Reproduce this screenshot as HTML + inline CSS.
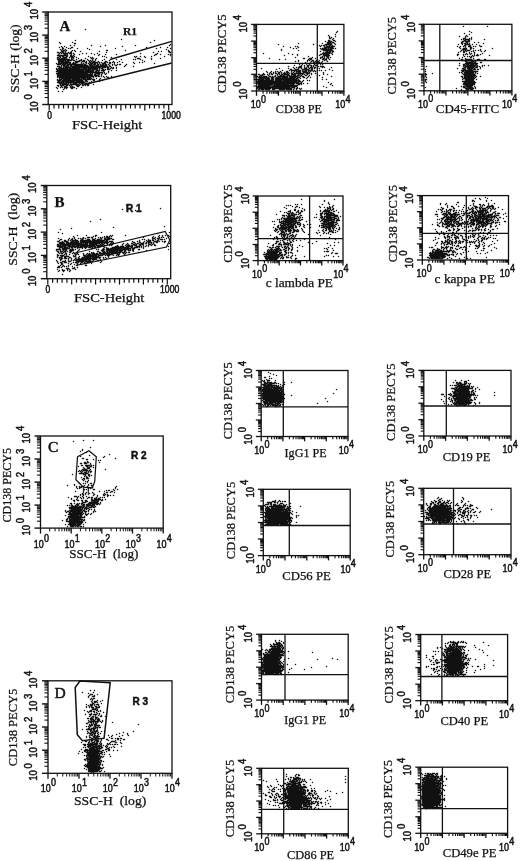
<!DOCTYPE html>
<html><head><meta charset="utf-8"><title>Figure</title>
<style>
html,body{margin:0;padding:0;background:#fff}
svg{display:block;filter:blur(.45px)}
svg path,svg rect{fill:none;stroke:#111}
svg path.d{stroke-linecap:round}
svg text{white-space:pre;fill:#111;stroke:#111;stroke-width:.25px}
.b{stroke-width:.5px}
.s{font-family:"Liberation Serif",serif}
.n{font-family:"Liberation Sans",sans-serif}
</style></head>
<body><svg width="520" height="861" viewBox="0 0 520 861">
<rect x="48.2" y="12" width="123.8" height="92.5" stroke-width="1.3"/>
<path d="M42.2 104.5L48.2 104.5" stroke-width="1.4"/>
<path d="M42.2 81.4L48.2 81.4" stroke-width="1.4"/>
<path d="M42.2 58.2L48.2 58.2" stroke-width="1.4"/>
<path d="M42.2 35.1L48.2 35.1" stroke-width="1.4"/>
<path d="M42.2 12L48.2 12" stroke-width="1.4"/>
<path d="M44.6 97.5L48.2 97.5" stroke-width="1.1"/>
<path d="M44.6 93.5L48.2 93.5" stroke-width="1.1"/>
<path d="M44.6 90.6L48.2 90.6" stroke-width="1.1"/>
<path d="M44.6 88.3L48.2 88.3" stroke-width="1.1"/>
<path d="M44.6 86.5L48.2 86.5" stroke-width="1.1"/>
<path d="M44.6 85L48.2 85" stroke-width="1.1"/>
<path d="M44.6 83.6L48.2 83.6" stroke-width="1.1"/>
<path d="M44.6 82.4L48.2 82.4" stroke-width="1.1"/>
<path d="M44.6 74.4L48.2 74.4" stroke-width="1.1"/>
<path d="M44.6 70.3L48.2 70.3" stroke-width="1.1"/>
<path d="M44.6 67.5L48.2 67.5" stroke-width="1.1"/>
<path d="M44.6 65.2L48.2 65.2" stroke-width="1.1"/>
<path d="M44.6 63.4L48.2 63.4" stroke-width="1.1"/>
<path d="M44.6 61.8L48.2 61.8" stroke-width="1.1"/>
<path d="M44.6 60.5L48.2 60.5" stroke-width="1.1"/>
<path d="M44.6 59.3L48.2 59.3" stroke-width="1.1"/>
<path d="M44.6 51.3L48.2 51.3" stroke-width="1.1"/>
<path d="M44.6 47.2L48.2 47.2" stroke-width="1.1"/>
<path d="M44.6 44.3L48.2 44.3" stroke-width="1.1"/>
<path d="M44.6 42.1L48.2 42.1" stroke-width="1.1"/>
<path d="M44.6 40.3L48.2 40.3" stroke-width="1.1"/>
<path d="M44.6 38.7L48.2 38.7" stroke-width="1.1"/>
<path d="M44.6 37.4L48.2 37.4" stroke-width="1.1"/>
<path d="M44.6 36.2L48.2 36.2" stroke-width="1.1"/>
<path d="M44.6 28.2L48.2 28.2" stroke-width="1.1"/>
<path d="M44.6 24.1L48.2 24.1" stroke-width="1.1"/>
<path d="M44.6 21.2L48.2 21.2" stroke-width="1.1"/>
<path d="M44.6 19L48.2 19" stroke-width="1.1"/>
<path d="M44.6 17.1L48.2 17.1" stroke-width="1.1"/>
<path d="M44.6 15.6L48.2 15.6" stroke-width="1.1"/>
<path d="M44.6 14.2L48.2 14.2" stroke-width="1.1"/>
<path d="M44.6 13.1L48.2 13.1" stroke-width="1.1"/>
<text class="n b" font-size="10.6" transform="translate(37.6 112) rotate(-90) scale(0.9 1)">10<tspan dy="-5.8" dx="2.0">0</tspan></text>
<text class="n b" font-size="10.6" transform="translate(37.6 88.9) rotate(-90) scale(0.9 1)">10<tspan dy="-5.8" dx="2.0">1</tspan></text>
<text class="n b" font-size="10.6" transform="translate(37.6 65.8) rotate(-90) scale(0.9 1)">10<tspan dy="-5.8" dx="2.0">2</tspan></text>
<text class="n b" font-size="10.6" transform="translate(37.6 42.6) rotate(-90) scale(0.9 1)">10<tspan dy="-5.8" dx="2.0">3</tspan></text>
<text class="n b" font-size="10.6" transform="translate(37.6 19.5) rotate(-90) scale(0.9 1)">10<tspan dy="-5.8" dx="2.0">4</tspan></text>
<path d="M49.2 104.5L49.2 110.4" stroke-width="1.2"/>
<path d="M54 104.5L54 108.5" stroke-width="1.2"/>
<path d="M58.8 104.5L58.8 108.5" stroke-width="1.2"/>
<path d="M63.5 104.5L63.5 108.5" stroke-width="1.2"/>
<path d="M68.3 104.5L68.3 108.5" stroke-width="1.2"/>
<path d="M73.1 104.5L73.1 110.4" stroke-width="1.2"/>
<path d="M77.9 104.5L77.9 108.5" stroke-width="1.2"/>
<path d="M82.7 104.5L82.7 108.5" stroke-width="1.2"/>
<path d="M87.4 104.5L87.4 108.5" stroke-width="1.2"/>
<path d="M92.2 104.5L92.2 108.5" stroke-width="1.2"/>
<path d="M97 104.5L97 110.4" stroke-width="1.2"/>
<path d="M101.8 104.5L101.8 108.5" stroke-width="1.2"/>
<path d="M106.6 104.5L106.6 108.5" stroke-width="1.2"/>
<path d="M111.3 104.5L111.3 108.5" stroke-width="1.2"/>
<path d="M116.1 104.5L116.1 108.5" stroke-width="1.2"/>
<path d="M120.9 104.5L120.9 110.4" stroke-width="1.2"/>
<path d="M125.7 104.5L125.7 108.5" stroke-width="1.2"/>
<path d="M130.5 104.5L130.5 108.5" stroke-width="1.2"/>
<path d="M135.2 104.5L135.2 108.5" stroke-width="1.2"/>
<path d="M140 104.5L140 108.5" stroke-width="1.2"/>
<path d="M144.8 104.5L144.8 110.4" stroke-width="1.2"/>
<path d="M149.6 104.5L149.6 108.5" stroke-width="1.2"/>
<path d="M154.4 104.5L154.4 108.5" stroke-width="1.2"/>
<path d="M159.1 104.5L159.1 108.5" stroke-width="1.2"/>
<path d="M163.9 104.5L163.9 108.5" stroke-width="1.2"/>
<path d="M168.7 104.5L168.7 110.4" stroke-width="1.2"/>
<path class="d" d="M85.5 29.5h0m36 10h0m-46 1h0m79 0h0m-95 2h0m13 0h0m78 0h0m-90 1h0m14 0h1m95 1h0m-100 1h0m4 0h0m17 0h0m14 0h0m30 0h0m34 0h0m-108 1h0m3 0h0m36 0h0m22 0h0m-63 1h0m3 0h0m4 0h0m5 0h1m74 0h0m14 0h0m7 0h0m-105 1h1m5 0h0m2 0h0m7 0h0m10 0h0m28 0h0m41 0h0m14 0h0m-110 1h0m2 0h0m3 0h0m24 0h0m77 0h0m-105 1h0m2 0h1m2 0h0m6 0h0m2 0h0m32 0h1m18 0h0m43 0h0m-107 1h2m2 0h0m6 0h0m4 0h0m5 0h0m19 0h0m59 0h0m3 0h0m7 0h1m-112 1h1m2 0h0m2 0h1m2 0h0m3 0h0m2 0h1m35 0h0m47 0h0m16 0h1m-111 1h0m2 0h0m2 0h4m2 0h2m2 0h0m9 0h0m4 0h0m5 0h0m6 0h0m43 0h0m17 0h0m-99 1h0m6 0h1m2 0h0m4 0h0m3 0h0m5 0h0m15 0h0m5 0h0m6 0h0m11 0h0m39 0h1m4 0h0m8 0h0m2 0h0m-113 1h10m3 0h1m2 0h0m25 0h0m56 0h0m16 0h0m-111 1h1m2 0h1m3 0h1m3 0h2m2 0h0m14 0h0m14 0h0m2 0h0m30 0h0m2 0h0m4 0h0m4 0h0m7 0h0m13 0h0m-107 1h1m2 0h0m3 0h3m3 0h0m2 0h2m3 0h0m14 0h0m2 0h0m14 0h0m5 0h0m24 0h0m10 0h0m-88 1h0m2 0h0m2 0h5m5 0h0m2 0h0m5 0h0m7 0h0m6 0h0m2 0h0m3 0h0m41 0h2m12 0h0m9 0h0m-103 1h12m2 0h1m4 0h0m5 0h0m6 0h0m5 0h0m3 0h0m9 0h0m12 0h0m5 0h0m12 0h0m2 0h0m5 0h0m11 0h0m-93 1h7m2 0h4m2 0h1m5 0h2m2 0h1m4 0h0m2 0h0m2 0h0m3 0h0m7 0h0m7 0h0m33 0h0m-84 1h5m2 0h3m7 0h4m3 0h2m2 0h0m3 0h0m2 0h0m2 0h1m4 0h0m7 0h1m7 0h0m6 0h0m25 0h0m-86 1h1m2 0h9m3 0h0m2 0h2m4 0h0m4 0h1m3 0h1m2 0h5m2 0h0m2 0h0m3 0h1m2 0h0m2 0h1m2 0h0m2 0h0m3 0h0m5 0h0m11 0h0m6 0h0m3 0h0m-86 1h0m2 0h9m2 0h1m2 0h3m6 0h0m2 0h0m3 0h0m2 0h0m2 0h2m2 0h1m2 0h0m2 0h0m3 0h3m4 0h1m4 0h0m20 0h0m20 0h0m-97 1h3m2 0h3m2 0h15m2 0h1m4 0h2m2 0h2m2 0h1m2 0h0m2 0h1m2 0h1m2 0h0m4 0h0m2 0h0m3 0h0m2 0h1m6 0h0m-65 1h0m2 0h1m2 0h2m2 0h1m3 0h13m2 0h3m2 0h0m2 0h2m2 0h6m3 0h0m3 0h0m3 0h1m9 0h0m-68 1h2m2 0h0m2 0h5m2 0h18m2 0h17m2 0h1m14 0h0m9 0h0m-74 1h2m2 0h0m2 0h5m2 0h28m2 0h3m2 0h1m3 0h0m2 0h0m3 0h0m-60 1h0m2 0h9m2 0h10m2 0h0m2 0h3m2 0h9m2 0h0m2 0h1m5 0h1m2 0h0m2 0h1m3 0h0m-60 1h1m2 0h31m2 0h5m2 0h0m3 0h1m2 0h0m2 0h2m-52 1h26m2 0h8m3 0h3m2 0h3m7 0h0m5 0h0m-60 1h37m2 0h1m2 0h0m5 0h0m5 0h0m-50 1h44m2 0h0m4 0h0m-52 1h31m3 0h0m2 0h0m3 0h4m3 0h0m2 0h0m2 0h0m-49 1h35m2 0h1m3 0h1m2 0h0m4 0h0m-48 1h35m2 0h4m3 0h0m-44 1h36m2 0h1m2 0h1m2 0h0m2 0h0m3 0h0m5 0h0m-54 1h0m2 0h31m3 0h0m11 0h0m3 0h1m-49 1h0m2 0h18m2 0h4m2 0h4m5 0h0m4 0h0m-43 1h0m2 0h2m2 0h7m2 0h9m2 0h7m2 0h2m5 0h0m-42 1h3m2 0h20m3 0h1m7 0h1m8 0h0m-44 1h1m2 0h13m2 0h7m2 0h2m4 0h0m8 0h0m-42 1h6m2 0h19m5 0h0m-30 1h7m2 0h0m2 0h0m3 0h3m3 0h0m2 0h2m2 0h4m-29 1h0m2 0h6m2 0h8m2 0h0m2 0h0m3 0h0m2 0h1m5 0h0m-36 1h1m2 0h3m3 0h1m2 0h0m2 0h0m5 0h3m3 0h1m2 0h0m2 0h1m-30 1h0m3 0h0m3 0h2m4 0h0m2 0h0m5 0h1m-22 1h0m4 0h0m2 0h0m2 0h3m3 0h4m7 0h0m-24 1h0m7 0h0m2 0h0m5 0h1m4 0h0m-13 1h0m-5 2h0m4 0h0" stroke-width="1.5"/>
<path d="M110 59.5L171.7 41.4" stroke-width="1.5"/>
<path d="M83.6 84.8L171.7 63" stroke-width="1.5"/>
<text class="s" x="59.5" y="30.8" font-size="15" font-weight="bold">A</text>
<text class="s" x="123" y="34.5" font-size="10.5" font-weight="bold" textLength="14" lengthAdjust="spacingAndGlyphs">R1</text>
<text class="s" x="18.6" y="92.8" font-size="13" transform="rotate(-90 18.6 92.8)" textLength="68.4" lengthAdjust="spacingAndGlyphs">SSC-H (log)</text>
<text class="n b" x="47.2" y="118.9" font-size="10.3" textLength="4.7" lengthAdjust="spacingAndGlyphs">0</text>
<text class="n b" x="161.5" y="118.9" font-size="10.3" textLength="19.3" lengthAdjust="spacingAndGlyphs">1000</text>
<text class="s" x="72" y="128.8" font-size="12.5" textLength="70.3" lengthAdjust="spacingAndGlyphs">FSC-Height</text>
<rect x="256.5" y="24.4" width="87.4" height="66.6" stroke-width="1.3"/>
<path d="M317.3 24.4L317.3 91" stroke-width="1.3"/>
<path d="M256.5 63.3L343.9 63.3" stroke-width="1.3"/>
<path d="M251.1 91L256.5 91" stroke-width="1.3"/>
<path d="M251.1 74.3L256.5 74.3" stroke-width="1.3"/>
<path d="M251.1 57.7L256.5 57.7" stroke-width="1.3"/>
<path d="M251.1 41.1L256.5 41.1" stroke-width="1.3"/>
<path d="M251.1 24.4L256.5 24.4" stroke-width="1.3"/>
<path d="M253.4 86L256.5 86" stroke-width="1.15"/>
<path d="M253.4 83.1L256.5 83.1" stroke-width="1.15"/>
<path d="M253.4 81L256.5 81" stroke-width="1.15"/>
<path d="M253.4 79.4L256.5 79.4" stroke-width="1.15"/>
<path d="M253.4 78L256.5 78" stroke-width="1.15"/>
<path d="M253.4 76.9L256.5 76.9" stroke-width="1.15"/>
<path d="M253.4 76L256.5 76" stroke-width="1.15"/>
<path d="M253.4 75.1L256.5 75.1" stroke-width="1.15"/>
<path d="M253.4 69.3L256.5 69.3" stroke-width="1.15"/>
<path d="M253.4 66.4L256.5 66.4" stroke-width="1.15"/>
<path d="M253.4 64.3L256.5 64.3" stroke-width="1.15"/>
<path d="M253.4 62.7L256.5 62.7" stroke-width="1.15"/>
<path d="M253.4 61.4L256.5 61.4" stroke-width="1.15"/>
<path d="M253.4 60.3L256.5 60.3" stroke-width="1.15"/>
<path d="M253.4 59.3L256.5 59.3" stroke-width="1.15"/>
<path d="M253.4 58.5L256.5 58.5" stroke-width="1.15"/>
<path d="M253.4 52.7L256.5 52.7" stroke-width="1.15"/>
<path d="M253.4 49.8L256.5 49.8" stroke-width="1.15"/>
<path d="M253.4 47.7L256.5 47.7" stroke-width="1.15"/>
<path d="M253.4 46.1L256.5 46.1" stroke-width="1.15"/>
<path d="M253.4 44.7L256.5 44.7" stroke-width="1.15"/>
<path d="M253.4 43.6L256.5 43.6" stroke-width="1.15"/>
<path d="M253.4 42.7L256.5 42.7" stroke-width="1.15"/>
<path d="M253.4 41.8L256.5 41.8" stroke-width="1.15"/>
<path d="M253.4 36L256.5 36" stroke-width="1.15"/>
<path d="M253.4 33.1L256.5 33.1" stroke-width="1.15"/>
<path d="M253.4 31L256.5 31" stroke-width="1.15"/>
<path d="M253.4 29.4L256.5 29.4" stroke-width="1.15"/>
<path d="M253.4 28.1L256.5 28.1" stroke-width="1.15"/>
<path d="M253.4 27L256.5 27" stroke-width="1.15"/>
<path d="M253.4 26L256.5 26" stroke-width="1.15"/>
<path d="M253.4 25.2L256.5 25.2" stroke-width="1.15"/>
<path d="M256.5 91L256.5 95.8" stroke-width="1.3"/>
<path d="M278.4 91L278.4 95.8" stroke-width="1.3"/>
<path d="M300.2 91L300.2 95.8" stroke-width="1.3"/>
<path d="M322 91L322 95.8" stroke-width="1.3"/>
<path d="M343.9 91L343.9 95.8" stroke-width="1.3"/>
<path d="M263.1 91L263.1 93.7" stroke-width="1.15"/>
<path d="M266.9 91L266.9 93.7" stroke-width="1.15"/>
<path d="M269.7 91L269.7 93.7" stroke-width="1.15"/>
<path d="M271.8 91L271.8 93.7" stroke-width="1.15"/>
<path d="M273.5 91L273.5 93.7" stroke-width="1.15"/>
<path d="M275 91L275 93.7" stroke-width="1.15"/>
<path d="M276.2 91L276.2 93.7" stroke-width="1.15"/>
<path d="M277.4 91L277.4 93.7" stroke-width="1.15"/>
<path d="M284.9 91L284.9 93.7" stroke-width="1.15"/>
<path d="M288.8 91L288.8 93.7" stroke-width="1.15"/>
<path d="M291.5 91L291.5 93.7" stroke-width="1.15"/>
<path d="M293.6 91L293.6 93.7" stroke-width="1.15"/>
<path d="M295.4 91L295.4 93.7" stroke-width="1.15"/>
<path d="M296.8 91L296.8 93.7" stroke-width="1.15"/>
<path d="M298.1 91L298.1 93.7" stroke-width="1.15"/>
<path d="M299.2 91L299.2 93.7" stroke-width="1.15"/>
<path d="M306.8 91L306.8 93.7" stroke-width="1.15"/>
<path d="M310.6 91L310.6 93.7" stroke-width="1.15"/>
<path d="M313.4 91L313.4 93.7" stroke-width="1.15"/>
<path d="M315.5 91L315.5 93.7" stroke-width="1.15"/>
<path d="M317.2 91L317.2 93.7" stroke-width="1.15"/>
<path d="M318.7 91L318.7 93.7" stroke-width="1.15"/>
<path d="M319.9 91L319.9 93.7" stroke-width="1.15"/>
<path d="M321.1 91L321.1 93.7" stroke-width="1.15"/>
<path d="M328.6 91L328.6 93.7" stroke-width="1.15"/>
<path d="M332.5 91L332.5 93.7" stroke-width="1.15"/>
<path d="M335.2 91L335.2 93.7" stroke-width="1.15"/>
<path d="M337.3 91L337.3 93.7" stroke-width="1.15"/>
<path d="M339.1 91L339.1 93.7" stroke-width="1.15"/>
<path d="M340.5 91L340.5 93.7" stroke-width="1.15"/>
<path d="M341.8 91L341.8 93.7" stroke-width="1.15"/>
<path d="M342.9 91L342.9 93.7" stroke-width="1.15"/>
<text class="n b" font-size="10.6" transform="translate(250.7 108.3) rotate(0) scale(0.85 1)">10<tspan dy="-5.8" dx="0.3">0</tspan></text>
<text class="n b" font-size="10.6" transform="translate(335.2 108.3) rotate(0) scale(0.85 1)">10<tspan dy="-5.8" dx="0.3">4</tspan></text>
<text class="n b" font-size="10.6" transform="translate(247 99.2) rotate(-90) scale(0.9 1)">10<tspan dy="-5.8" dx="2.0">0</tspan></text>
<text class="n b" font-size="10.6" transform="translate(247 32.6) rotate(-90) scale(0.9 1)">10<tspan dy="-5.8" dx="2.0">4</tspan></text>
<text class="s" x="226.1" y="93.1" font-size="12" transform="rotate(-90 226.1 93.1)" textLength="78.8" lengthAdjust="spacingAndGlyphs">CD138 PECY5</text>
<text class="s" x="275.8" y="113" font-size="12" textLength="46.2" lengthAdjust="spacingAndGlyphs">CD38 PE</text>
<path class="d" d="M337.5 31.5h0m-1 1h0m-1 2h0m-7 1h0m1 1h0m6 0h0m-6 1h0m2 0h0m-2 1h1m3 0h0m-1 1h0m-4 1h1m4 0h1m-9 1h0m3 0h3m4 0h0m-8 1h3m2 0h1m-35 1h0m24 0h0m5 0h4m3 0h0m-56 1h0m35 0h0m12 0h6m4 0h0m-16 1h0m2 0h0m2 0h1m2 0h0m3 0h1m2 0h0m-49 1h0m12 0h0m2 0h0m23 0h0m4 0h0m2 0h3m2 0h3m-44 1h0m8 0h0m26 0h8m-39 1h0m3 0h0m24 0h0m2 0h4m2 0h0m2 0h3m2 0h0m-54 1h0m40 0h10m-50 1h0m17 0h0m25 0h9m-12 1h0m6 0h1m2 0h1m2 0h1m-10 1h0m2 0h5m2 0h0m-69 1h0m25 0h0m34 0h7m2 0h0m-39 1h0m5 0h0m23 0h1m2 0h5m4 0h0m-48 1h0m13 0h0m22 0h0m4 0h6m-21 1h0m14 0h0m2 0h0m2 0h2m-33 1h0m17 0h0m8 0h2m2 0h0m3 0h1m2 0h0m-61 1h0m34 0h1m5 0h2m4 0h0m5 0h0m3 0h1m2 0h0m2 0h0m-49 1h0m6 0h0m23 0h0m2 0h1m6 0h0m5 0h1m2 0h1m3 0h0m-31 1h0m9 0h0m2 0h0m3 0h1m3 0h0m3 0h0m5 0h0m2 0h0m-31 1h0m3 0h0m9 0h0m4 0h0m2 0h0m2 0h1m2 0h0m4 0h0m5 0h0m-22 1h0m5 0h0m3 0h1m2 0h3m2 0h0m-19 1h0m4 0h0m9 0h0m3 0h0m2 0h0m5 0h0m-26 1h0m3 0h0m4 0h0m3 0h0m5 0h0m3 0h0m3 0h0m2 0h0m-28 1h0m7 0h0m3 0h0m3 0h1m2 0h1m2 0h0m2 0h1m-28 1h0m11 0h2m3 0h0m3 0h1m3 0h0m2 0h0m5 0h0m2 0h3m-30 1h0m3 0h0m2 0h3m3 0h0m2 0h0m2 0h0m2 0h2m2 0h1m7 0h0m2 0h0m7 0h0m-70 1h0m18 0h0m9 0h0m6 0h0m4 0h0m3 0h0m3 0h2m3 0h0m2 0h1m2 0h0m3 0h0m2 0h0m-43 1h0m14 0h1m4 0h3m4 0h6m3 0h1m17 0h0m-47 1h0m7 0h0m2 0h5m2 0h2m2 0h0m3 0h1m2 0h4m2 0h0m3 0h0m2 0h0m2 0h0m4 0h0m7 0h0m-66 1h0m5 0h0m4 0h0m2 0h0m3 0h0m6 0h1m4 0h0m3 0h0m2 0h4m2 0h4m2 0h0m2 0h0m3 0h0m2 0h0m-48 1h0m3 0h0m3 0h0m2 0h0m3 0h1m2 0h0m3 0h0m2 0h2m3 0h0m2 0h0m3 0h0m2 0h2m3 0h4m2 0h0m14 0h0m-60 1h0m6 0h0m2 0h0m2 0h0m2 0h1m2 0h1m2 0h0m2 0h2m2 0h0m2 0h0m2 0h1m2 0h9m3 0h3m2 0h0m4 0h0m8 0h0m-65 1h1m3 0h2m3 0h0m2 0h0m2 0h1m5 0h0m2 0h0m2 0h1m2 0h4m3 0h4m3 0h0m2 0h0m2 0h0m2 0h0m3 0h0m4 0h0m12 0h0m4 0h0m-67 1h2m6 0h0m7 0h0m2 0h0m3 0h1m2 0h1m3 0h2m2 0h0m2 0h2m2 0h2m2 0h0m4 0h1m3 0h0m10 0h0m-62 1h0m2 0h2m2 0h3m3 0h1m2 0h0m2 0h1m3 0h9m2 0h8m3 0h0m2 0h1m5 0h0m23 0h0m-73 1h10m3 0h2m3 0h4m2 0h5m2 0h6m2 0h2m4 0h1m3 0h0m3 0h0m12 0h0m-63 1h10m2 0h2m2 0h19m2 0h1m3 0h0m6 0h0m-49 1h6m2 0h4m2 0h2m2 0h21m2 0h0m24 0h0m4 0h0m-68 1h15m2 0h6m2 0h16m4 0h0m4 0h0m2 0h0m-52 1h39m2 0h2m2 0h0m-45 1h41m3 0h0m27 0h0m-71 1h37m2 0h5m2 0h0m4 0h0m24 0h0m-73 1h14m2 0h14m2 0h3m5 0h1m2 0h0m29 0h0m-72 1h11m2 0h0m2 0h24m35 0h0m-75 1h13m2 0h24m27 0h0m-66 1h32m2 0h3m3 0h0m29 0h0m-69 1h0m2 0h11m2 0h19m3 0h0m2 0h1m2 0h0m2 0h0m-43 1h1m2 0h2m2 0h4m3 0h2m5 0h5m2 0h5m2 0h0m3 0h0m4 0h0" stroke-width="1.5"/>
<rect x="424" y="24.3" width="87.9" height="66.5" stroke-width="1.3"/>
<path d="M439.8 24.3L439.8 90.8" stroke-width="1.3"/>
<path d="M424 60.5L511.9 60.5" stroke-width="1.3"/>
<path d="M418.6 90.8L424 90.8" stroke-width="1.3"/>
<path d="M418.6 74.2L424 74.2" stroke-width="1.3"/>
<path d="M418.6 57.5L424 57.5" stroke-width="1.3"/>
<path d="M418.6 40.9L424 40.9" stroke-width="1.3"/>
<path d="M418.6 24.3L424 24.3" stroke-width="1.3"/>
<path d="M420.9 85.8L424 85.8" stroke-width="1.15"/>
<path d="M420.9 82.9L424 82.9" stroke-width="1.15"/>
<path d="M420.9 80.8L424 80.8" stroke-width="1.15"/>
<path d="M420.9 79.2L424 79.2" stroke-width="1.15"/>
<path d="M420.9 77.9L424 77.9" stroke-width="1.15"/>
<path d="M420.9 76.8L424 76.8" stroke-width="1.15"/>
<path d="M420.9 75.8L424 75.8" stroke-width="1.15"/>
<path d="M420.9 74.9L424 74.9" stroke-width="1.15"/>
<path d="M420.9 69.2L424 69.2" stroke-width="1.15"/>
<path d="M420.9 66.2L424 66.2" stroke-width="1.15"/>
<path d="M420.9 64.2L424 64.2" stroke-width="1.15"/>
<path d="M420.9 62.6L424 62.6" stroke-width="1.15"/>
<path d="M420.9 61.2L424 61.2" stroke-width="1.15"/>
<path d="M420.9 60.1L424 60.1" stroke-width="1.15"/>
<path d="M420.9 59.2L424 59.2" stroke-width="1.15"/>
<path d="M420.9 58.3L424 58.3" stroke-width="1.15"/>
<path d="M420.9 52.5L424 52.5" stroke-width="1.15"/>
<path d="M420.9 49.6L424 49.6" stroke-width="1.15"/>
<path d="M420.9 47.5L424 47.5" stroke-width="1.15"/>
<path d="M420.9 45.9L424 45.9" stroke-width="1.15"/>
<path d="M420.9 44.6L424 44.6" stroke-width="1.15"/>
<path d="M420.9 43.5L424 43.5" stroke-width="1.15"/>
<path d="M420.9 42.5L424 42.5" stroke-width="1.15"/>
<path d="M420.9 41.7L424 41.7" stroke-width="1.15"/>
<path d="M420.9 35.9L424 35.9" stroke-width="1.15"/>
<path d="M420.9 33L424 33" stroke-width="1.15"/>
<path d="M420.9 30.9L424 30.9" stroke-width="1.15"/>
<path d="M420.9 29.3L424 29.3" stroke-width="1.15"/>
<path d="M420.9 28L424 28" stroke-width="1.15"/>
<path d="M420.9 26.9L424 26.9" stroke-width="1.15"/>
<path d="M420.9 25.9L424 25.9" stroke-width="1.15"/>
<path d="M420.9 25.1L424 25.1" stroke-width="1.15"/>
<path d="M424 90.8L424 95.6" stroke-width="1.3"/>
<path d="M446 90.8L446 95.6" stroke-width="1.3"/>
<path d="M467.9 90.8L467.9 95.6" stroke-width="1.3"/>
<path d="M489.9 90.8L489.9 95.6" stroke-width="1.3"/>
<path d="M511.9 90.8L511.9 95.6" stroke-width="1.3"/>
<path d="M430.6 90.8L430.6 93.5" stroke-width="1.15"/>
<path d="M434.5 90.8L434.5 93.5" stroke-width="1.15"/>
<path d="M437.2 90.8L437.2 93.5" stroke-width="1.15"/>
<path d="M439.4 90.8L439.4 93.5" stroke-width="1.15"/>
<path d="M441.1 90.8L441.1 93.5" stroke-width="1.15"/>
<path d="M442.6 90.8L442.6 93.5" stroke-width="1.15"/>
<path d="M443.8 90.8L443.8 93.5" stroke-width="1.15"/>
<path d="M445 90.8L445 93.5" stroke-width="1.15"/>
<path d="M452.6 90.8L452.6 93.5" stroke-width="1.15"/>
<path d="M456.5 90.8L456.5 93.5" stroke-width="1.15"/>
<path d="M459.2 90.8L459.2 93.5" stroke-width="1.15"/>
<path d="M461.3 90.8L461.3 93.5" stroke-width="1.15"/>
<path d="M463.1 90.8L463.1 93.5" stroke-width="1.15"/>
<path d="M464.5 90.8L464.5 93.5" stroke-width="1.15"/>
<path d="M465.8 90.8L465.8 93.5" stroke-width="1.15"/>
<path d="M466.9 90.8L466.9 93.5" stroke-width="1.15"/>
<path d="M474.6 90.8L474.6 93.5" stroke-width="1.15"/>
<path d="M478.4 90.8L478.4 93.5" stroke-width="1.15"/>
<path d="M481.2 90.8L481.2 93.5" stroke-width="1.15"/>
<path d="M483.3 90.8L483.3 93.5" stroke-width="1.15"/>
<path d="M485 90.8L485 93.5" stroke-width="1.15"/>
<path d="M486.5 90.8L486.5 93.5" stroke-width="1.15"/>
<path d="M487.8 90.8L487.8 93.5" stroke-width="1.15"/>
<path d="M488.9 90.8L488.9 93.5" stroke-width="1.15"/>
<path d="M496.5 90.8L496.5 93.5" stroke-width="1.15"/>
<path d="M500.4 90.8L500.4 93.5" stroke-width="1.15"/>
<path d="M503.2 90.8L503.2 93.5" stroke-width="1.15"/>
<path d="M505.3 90.8L505.3 93.5" stroke-width="1.15"/>
<path d="M507 90.8L507 93.5" stroke-width="1.15"/>
<path d="M508.5 90.8L508.5 93.5" stroke-width="1.15"/>
<path d="M509.8 90.8L509.8 93.5" stroke-width="1.15"/>
<path d="M510.9 90.8L510.9 93.5" stroke-width="1.15"/>
<text class="n b" font-size="10.6" transform="translate(418.1 108.1) rotate(0) scale(0.85 1)">10<tspan dy="-5.8" dx="0.3">0</tspan></text>
<text class="n b" font-size="10.6" transform="translate(501.9 108.1) rotate(0) scale(0.85 1)">10<tspan dy="-5.8" dx="0.3">4</tspan></text>
<text class="n b" font-size="10.6" transform="translate(414.5 99) rotate(-90) scale(0.9 1)">10<tspan dy="-5.8" dx="2.0">0</tspan></text>
<text class="n b" font-size="10.6" transform="translate(414.5 32.5) rotate(-90) scale(0.9 1)">10<tspan dy="-5.8" dx="2.0">4</tspan></text>
<text class="s" x="396.4" y="94.4" font-size="12" transform="rotate(-90 396.4 94.4)" textLength="77.5" lengthAdjust="spacingAndGlyphs">CD138 PECY5</text>
<text class="s" x="435.8" y="112.5" font-size="12" textLength="63.4" lengthAdjust="spacingAndGlyphs">CD45-FITC</text>
<path class="d" d="M463.5 26.5h0m24 0h0m-18 5h0m2 1h0m-7 1h0m5 1h0m-3 1h0m-7 1h0m6 0h0m2 0h0m-2 1h0m6 0h0m-8 1h2m4 0h0m2 0h0m-10 1h0m2 0h0m2 0h4m2 0h0m13 0h0m-20 1h1m3 0h1m-7 1h1m2 0h4m-8 1h1m4 0h1m7 0h0m4 0h0m-17 1h1m2 0h1m2 0h0m2 0h0m14 0h0m-25 1h0m4 0h0m3 0h4m3 0h0m4 0h0m-12 1h1m4 0h1m9 0h0m-22 1h0m3 0h0m3 0h0m2 0h0m3 0h2m3 0h0m2 0h0m5 0h1m-22 1h0m6 0h0m5 0h1m-11 1h0m3 0h3m4 0h1m2 0h0m19 0h0m-30 1h4m4 0h0m10 0h0m-19 1h0m2 0h0m2 0h0m2 0h2m4 0h0m2 0h0m3 0h0m2 0h0m5 0h0m-25 1h0m3 0h1m2 0h0m5 0h0m2 0h0m8 0h0m3 0h0m-26 1h0m5 0h1m5 0h0m5 0h0m-8 1h0m3 0h0m2 0h0m3 0h0m8 0h0m-25 1h1m5 0h0m2 0h0m2 0h0m3 0h0m4 0h0m3 0h0m3 0h0m-23 1h0m6 0h0m9 0h0m2 0h0m2 0h2m11 0h0m-25 1h0m3 0h0m2 0h0m2 0h0m2 0h0m-11 1h0m8 0h1m-12 1h0m6 0h0m8 0h0m-12 1h1m3 0h6m6 0h2m5 0h1m-22 1h0m3 0h8m2 0h0m5 0h0m-16 1h1m5 0h2m2 0h0m-9 1h6m2 0h1m5 0h1m-22 1h0m6 0h12m-14 1h1m2 0h2m2 0h3m2 0h1m-17 1h0m4 0h2m2 0h8m2 0h0m5 0h0m2 0h0m4 0h0m-62 1h0m37 0h0m2 0h9m2 0h1m2 0h0m3 0h0m-18 1h1m2 0h6m2 0h2m3 0h0m-23 1h0m5 0h1m2 0h0m2 0h5m2 0h0m6 0h0m-55 1h0m38 0h2m3 0h3m2 0h2m2 0h1m-17 1h11m-47 1h0m37 0h1m2 0h12m-18 1h0m2 0h0m3 0h9m2 0h0m-50 1h0m7 0h0m30 0h0m2 0h9m2 0h0m2 0h0m-52 1h1m37 0h11m-49 1h0m39 0h11m-50 1h0m36 0h1m2 0h10m2 0h0m4 0h0m-54 1h0m36 0h0m2 0h9m2 0h0m-12 1h11m-49 1h1m36 0h0m3 0h8m3 0h0m-51 1h0m40 0h8m-48 1h0m37 0h12m-48 1h0m38 0h11m-12 1h11m-11 1h11m-9 1h7m-11 1h0m2 0h1m2 0h5m3 0h0m-49 1h0m38 0h2m2 0h5m3 0h0m-19 1h0m9 0h8m2 0h0m-14 1h0m5 0h2m2 0h2" stroke-width="1.5"/>
<rect x="46.8" y="185.5" width="123.9" height="93.2" stroke-width="1.3"/>
<path d="M40.8 278.7L46.8 278.7" stroke-width="1.4"/>
<path d="M40.8 255.4L46.8 255.4" stroke-width="1.4"/>
<path d="M40.8 232.1L46.8 232.1" stroke-width="1.4"/>
<path d="M40.8 208.8L46.8 208.8" stroke-width="1.4"/>
<path d="M40.8 185.5L46.8 185.5" stroke-width="1.4"/>
<path d="M43.2 271.7L46.8 271.7" stroke-width="1.1"/>
<path d="M43.2 267.6L46.8 267.6" stroke-width="1.1"/>
<path d="M43.2 264.7L46.8 264.7" stroke-width="1.1"/>
<path d="M43.2 262.4L46.8 262.4" stroke-width="1.1"/>
<path d="M43.2 260.6L46.8 260.6" stroke-width="1.1"/>
<path d="M43.2 259L46.8 259" stroke-width="1.1"/>
<path d="M43.2 257.7L46.8 257.7" stroke-width="1.1"/>
<path d="M43.2 256.5L46.8 256.5" stroke-width="1.1"/>
<path d="M43.2 248.4L46.8 248.4" stroke-width="1.1"/>
<path d="M43.2 244.3L46.8 244.3" stroke-width="1.1"/>
<path d="M43.2 241.4L46.8 241.4" stroke-width="1.1"/>
<path d="M43.2 239.1L46.8 239.1" stroke-width="1.1"/>
<path d="M43.2 237.3L46.8 237.3" stroke-width="1.1"/>
<path d="M43.2 235.7L46.8 235.7" stroke-width="1.1"/>
<path d="M43.2 234.4L46.8 234.4" stroke-width="1.1"/>
<path d="M43.2 233.2L46.8 233.2" stroke-width="1.1"/>
<path d="M43.2 225.1L46.8 225.1" stroke-width="1.1"/>
<path d="M43.2 221L46.8 221" stroke-width="1.1"/>
<path d="M43.2 218.1L46.8 218.1" stroke-width="1.1"/>
<path d="M43.2 215.8L46.8 215.8" stroke-width="1.1"/>
<path d="M43.2 214L46.8 214" stroke-width="1.1"/>
<path d="M43.2 212.4L46.8 212.4" stroke-width="1.1"/>
<path d="M43.2 211.1L46.8 211.1" stroke-width="1.1"/>
<path d="M43.2 209.9L46.8 209.9" stroke-width="1.1"/>
<path d="M43.2 201.8L46.8 201.8" stroke-width="1.1"/>
<path d="M43.2 197.7L46.8 197.7" stroke-width="1.1"/>
<path d="M43.2 194.8L46.8 194.8" stroke-width="1.1"/>
<path d="M43.2 192.5L46.8 192.5" stroke-width="1.1"/>
<path d="M43.2 190.7L46.8 190.7" stroke-width="1.1"/>
<path d="M43.2 189.1L46.8 189.1" stroke-width="1.1"/>
<path d="M43.2 187.8L46.8 187.8" stroke-width="1.1"/>
<path d="M43.2 186.6L46.8 186.6" stroke-width="1.1"/>
<text class="n b" font-size="10.6" transform="translate(36.2 286.2) rotate(-90) scale(0.9 1)">10<tspan dy="-5.8" dx="2.0">0</tspan></text>
<text class="n b" font-size="10.6" transform="translate(36.2 262.9) rotate(-90) scale(0.9 1)">10<tspan dy="-5.8" dx="2.0">1</tspan></text>
<text class="n b" font-size="10.6" transform="translate(36.2 239.6) rotate(-90) scale(0.9 1)">10<tspan dy="-5.8" dx="2.0">2</tspan></text>
<text class="n b" font-size="10.6" transform="translate(36.2 216.3) rotate(-90) scale(0.9 1)">10<tspan dy="-5.8" dx="2.0">3</tspan></text>
<text class="n b" font-size="10.6" transform="translate(36.2 193) rotate(-90) scale(0.9 1)">10<tspan dy="-5.8" dx="2.0">4</tspan></text>
<path d="M47.8 278.7L47.8 284.6" stroke-width="1.2"/>
<path d="M52.6 278.7L52.6 282.7" stroke-width="1.2"/>
<path d="M57.4 278.7L57.4 282.7" stroke-width="1.2"/>
<path d="M62.1 278.7L62.1 282.7" stroke-width="1.2"/>
<path d="M66.9 278.7L66.9 282.7" stroke-width="1.2"/>
<path d="M71.7 278.7L71.7 284.6" stroke-width="1.2"/>
<path d="M76.5 278.7L76.5 282.7" stroke-width="1.2"/>
<path d="M81.3 278.7L81.3 282.7" stroke-width="1.2"/>
<path d="M86 278.7L86 282.7" stroke-width="1.2"/>
<path d="M90.8 278.7L90.8 282.7" stroke-width="1.2"/>
<path d="M95.6 278.7L95.6 284.6" stroke-width="1.2"/>
<path d="M100.4 278.7L100.4 282.7" stroke-width="1.2"/>
<path d="M105.2 278.7L105.2 282.7" stroke-width="1.2"/>
<path d="M109.9 278.7L109.9 282.7" stroke-width="1.2"/>
<path d="M114.7 278.7L114.7 282.7" stroke-width="1.2"/>
<path d="M119.5 278.7L119.5 284.6" stroke-width="1.2"/>
<path d="M124.3 278.7L124.3 282.7" stroke-width="1.2"/>
<path d="M129.1 278.7L129.1 282.7" stroke-width="1.2"/>
<path d="M133.8 278.7L133.8 282.7" stroke-width="1.2"/>
<path d="M138.6 278.7L138.6 282.7" stroke-width="1.2"/>
<path d="M143.4 278.7L143.4 284.6" stroke-width="1.2"/>
<path d="M148.2 278.7L148.2 282.7" stroke-width="1.2"/>
<path d="M153 278.7L153 282.7" stroke-width="1.2"/>
<path d="M157.7 278.7L157.7 282.7" stroke-width="1.2"/>
<path d="M162.5 278.7L162.5 282.7" stroke-width="1.2"/>
<path d="M167.3 278.7L167.3 284.6" stroke-width="1.2"/>
<path class="d" d="M126.5 205.5h0m34 3h0m-38 1h0m13 1h0m-35 9h0m-10 2h0m74 5h0m-51 1h0m-42 1h0m-11 1h0m-2 3h0m43 0h0m68 0h0m-107 1h0m95 0h0m-80 2h0m9 0h0m9 0h1m14 0h0m2 0h0m13 0h0m34 0h0m3 0h0m3 0h0m3 0h0m-95 1h0m20 0h0m2 0h0m9 0h0m2 0h1m2 0h0m2 0h0m42 0h0m5 0h0m4 0h0m7 0h0m-95 1h0m9 0h0m4 0h2m2 0h1m6 0h0m2 0h0m2 0h0m2 0h0m2 0h3m34 0h0m9 0h0m3 0h0m4 0h0m2 0h0m2 0h0m-105 1h0m11 0h0m3 0h0m2 0h0m4 0h0m2 0h0m2 0h1m2 0h0m7 0h0m3 0h0m5 0h1m3 0h1m2 0h4m41 0h2m3 0h2m7 0h0m-106 1h1m7 0h0m3 0h1m3 0h0m6 0h1m5 0h2m3 0h2m3 0h2m2 0h0m3 0h5m3 0h1m29 0h0m2 0h0m4 0h0m4 0h0m3 0h0m3 0h0m2 0h2m2 0h0m-105 1h0m5 0h1m3 0h0m2 0h0m2 0h5m3 0h10m2 0h12m2 0h1m32 0h0m7 0h0m2 0h2m2 0h1m4 0h1m-101 1h1m4 0h0m2 0h3m4 0h2m2 0h3m2 0h23m2 0h2m2 0h3m20 0h0m5 0h0m2 0h0m5 0h0m3 0h3m4 0h3m2 0h0m3 0h0m2 0h1m-106 1h4m3 0h2m2 0h8m2 0h28m3 0h0m2 0h0m20 0h1m5 0h1m3 0h0m3 0h0m2 0h3m2 0h0m3 0h1m7 0h0m-105 1h5m2 0h15m2 0h0m2 0h2m2 0h10m2 0h1m2 0h0m2 0h1m3 0h0m2 0h1m10 0h0m4 0h0m4 0h1m3 0h0m2 0h1m3 0h2m2 0h1m2 0h0m3 0h0m2 0h0m16 0h0m-112 1h1m2 0h27m2 0h7m4 0h0m2 0h1m4 0h0m2 0h3m10 0h0m4 0h0m2 0h0m5 0h1m2 0h0m3 0h4m5 0h2m2 0h0m2 0h0m-97 1h3m2 0h8m2 0h2m2 0h18m2 0h6m2 0h1m4 0h0m2 0h0m6 0h0m5 0h0m3 0h0m2 0h2m2 0h1m2 0h2m3 0h1m3 0h0m3 0h0m2 0h0m3 0h0m3 0h1m-98 1h8m3 0h10m2 0h7m2 0h6m2 0h3m3 0h0m12 0h3m2 0h3m3 0h6m4 0h3m2 0h0m2 0h0m2 0h0m3 0h0m20 0h0m-109 1h3m2 0h3m2 0h0m2 0h1m2 0h1m2 0h5m2 0h2m2 0h2m2 0h0m2 0h1m2 0h1m6 0h0m2 0h0m6 0h16m3 0h1m2 0h3m2 0h0m2 0h0m2 0h0m-84 1h0m3 0h7m3 0h0m5 0h0m5 0h0m3 0h0m6 0h1m11 0h0m3 0h2m2 0h20m2 0h2m9 0h0m-87 1h4m2 0h4m4 0h3m2 0h0m4 0h0m17 0h0m2 0h0m4 0h2m2 0h22m2 0h0m2 0h1m5 0h1m29 0h0m-112 1h0m4 0h0m3 0h0m2 0h1m3 0h4m5 0h0m23 0h2m3 0h16m2 0h1m3 0h2m2 0h1m13 0h0m-89 1h1m2 0h2m2 0h1m2 0h0m3 0h1m6 0h0m12 0h0m8 0h1m4 0h2m2 0h1m2 0h8m2 0h2m3 0h1m8 0h0m-75 1h0m2 0h0m3 0h0m2 0h0m4 0h1m3 0h0m3 0h0m15 0h0m2 0h0m6 0h1m3 0h2m2 0h13m2 0h2m2 0h0m2 0h1m9 0h0m-79 1h0m2 0h1m3 0h1m6 0h0m2 0h0m3 0h0m6 0h0m4 0h0m2 0h0m2 0h3m2 0h1m2 0h10m2 0h6m2 0h0m4 0h0m2 0h0m-68 1h0m7 0h0m2 0h0m3 0h0m6 0h1m2 0h0m5 0h0m3 0h0m2 0h2m2 0h6m2 0h0m2 0h2m2 0h6m5 0h2m5 0h0m-67 1h1m2 0h3m3 0h0m7 0h0m10 0h2m2 0h9m2 0h4m3 0h0m2 0h2m4 0h0m3 0h0m2 0h0m-61 1h0m4 0h1m2 0h4m5 0h1m5 0h0m5 0h14m10 0h0m-51 1h0m2 0h2m3 0h1m4 0h1m8 0h0m4 0h8m2 0h8m3 0h0m2 0h0m3 0h0m-49 1h0m2 0h1m2 0h2m2 0h0m3 0h0m4 0h0m3 0h1m2 0h15m3 0h0m4 0h0m3 0h0m-46 1h1m7 0h0m3 0h0m3 0h0m3 0h13m2 0h4m4 0h0m4 0h0m-48 1h0m4 0h0m5 0h0m3 0h0m3 0h0m2 0h0m2 0h0m2 0h9m2 0h2m3 0h0m4 0h1m-41 1h0m5 0h3m3 0h2m7 0h6m2 0h7m9 0h0m-44 1h0m3 0h1m3 0h2m7 0h0m2 0h1m2 0h0m3 0h1m2 0h0m3 0h2m11 0h0m-42 1h0m3 0h1m6 0h0m3 0h0m6 0h0m3 0h0m4 0h2m5 0h0m-30 1h1m8 0h0m4 0h0m7 0h0m-21 1h0m3 0h0m5 0h0m8 0h1m8 0h1m-28 1h1m3 0h0m2 0h0m2 0h0m2 0h0m4 0h0m-15 1h2m2 0h0m13 0h0m3 0h0m-11 1h2m4 0h2m-17 1h0m5 0h0m5 0h0m2 0h0m6 0h0m-16 1h0m3 0h2m3 0h0m3 0h0m-12 1h0m5 0h0m6 0h0m-7 3h0" stroke-width="1.5"/>
<path d="M75 253L165.2 231.5L169.8 240L166.5 247L98 261L77.5 265Z" stroke-width="1.2"/>
<text class="s" x="54.5" y="206.5" font-size="15" font-weight="bold">B</text>
<text class="n b" x="126" y="211.5" font-size="10" font-weight="bold">R 1</text>
<text class="s" x="17" y="265.8" font-size="12.5" transform="rotate(-90 17 265.8)" textLength="73" lengthAdjust="spacingAndGlyphs">SSC-H  (log)</text>
<text class="n b" x="45.6" y="292.5" font-size="10.3" textLength="4.7" lengthAdjust="spacingAndGlyphs">0</text>
<text class="n b" x="160" y="292.5" font-size="10.3" textLength="19.3" lengthAdjust="spacingAndGlyphs">1000</text>
<text class="s" x="74" y="301.5" font-size="12.5" textLength="70.3" lengthAdjust="spacingAndGlyphs">FSC-Height</text>
<rect x="258" y="196" width="85" height="64.6" stroke-width="1.3"/>
<path d="M309.6 196L309.6 260.6" stroke-width="1.3"/>
<path d="M258 238.7L343 238.7" stroke-width="1.3"/>
<path d="M252.6 260.6L258 260.6" stroke-width="1.3"/>
<path d="M252.6 244.5L258 244.5" stroke-width="1.3"/>
<path d="M252.6 228.3L258 228.3" stroke-width="1.3"/>
<path d="M252.6 212.2L258 212.2" stroke-width="1.3"/>
<path d="M252.6 196L258 196" stroke-width="1.3"/>
<path d="M254.9 255.7L258 255.7" stroke-width="1.15"/>
<path d="M254.9 252.9L258 252.9" stroke-width="1.15"/>
<path d="M254.9 250.9L258 250.9" stroke-width="1.15"/>
<path d="M254.9 249.3L258 249.3" stroke-width="1.15"/>
<path d="M254.9 248L258 248" stroke-width="1.15"/>
<path d="M254.9 247L258 247" stroke-width="1.15"/>
<path d="M254.9 246L258 246" stroke-width="1.15"/>
<path d="M254.9 245.2L258 245.2" stroke-width="1.15"/>
<path d="M254.9 239.6L258 239.6" stroke-width="1.15"/>
<path d="M254.9 236.7L258 236.7" stroke-width="1.15"/>
<path d="M254.9 234.7L258 234.7" stroke-width="1.15"/>
<path d="M254.9 233.2L258 233.2" stroke-width="1.15"/>
<path d="M254.9 231.9L258 231.9" stroke-width="1.15"/>
<path d="M254.9 230.8L258 230.8" stroke-width="1.15"/>
<path d="M254.9 229.9L258 229.9" stroke-width="1.15"/>
<path d="M254.9 229L258 229" stroke-width="1.15"/>
<path d="M254.9 223.4L258 223.4" stroke-width="1.15"/>
<path d="M254.9 220.6L258 220.6" stroke-width="1.15"/>
<path d="M254.9 218.6L258 218.6" stroke-width="1.15"/>
<path d="M254.9 217L258 217" stroke-width="1.15"/>
<path d="M254.9 215.7L258 215.7" stroke-width="1.15"/>
<path d="M254.9 214.7L258 214.7" stroke-width="1.15"/>
<path d="M254.9 213.7L258 213.7" stroke-width="1.15"/>
<path d="M254.9 212.9L258 212.9" stroke-width="1.15"/>
<path d="M254.9 207.3L258 207.3" stroke-width="1.15"/>
<path d="M254.9 204.4L258 204.4" stroke-width="1.15"/>
<path d="M254.9 202.4L258 202.4" stroke-width="1.15"/>
<path d="M254.9 200.9L258 200.9" stroke-width="1.15"/>
<path d="M254.9 199.6L258 199.6" stroke-width="1.15"/>
<path d="M254.9 198.5L258 198.5" stroke-width="1.15"/>
<path d="M254.9 197.6L258 197.6" stroke-width="1.15"/>
<path d="M254.9 196.7L258 196.7" stroke-width="1.15"/>
<path d="M258 260.6L258 265.4" stroke-width="1.3"/>
<path d="M279.2 260.6L279.2 265.4" stroke-width="1.3"/>
<path d="M300.5 260.6L300.5 265.4" stroke-width="1.3"/>
<path d="M321.8 260.6L321.8 265.4" stroke-width="1.3"/>
<path d="M343 260.6L343 265.4" stroke-width="1.3"/>
<path d="M264.4 260.6L264.4 263.3" stroke-width="1.15"/>
<path d="M268.1 260.6L268.1 263.3" stroke-width="1.15"/>
<path d="M270.8 260.6L270.8 263.3" stroke-width="1.15"/>
<path d="M272.9 260.6L272.9 263.3" stroke-width="1.15"/>
<path d="M274.5 260.6L274.5 263.3" stroke-width="1.15"/>
<path d="M276 260.6L276 263.3" stroke-width="1.15"/>
<path d="M277.2 260.6L277.2 263.3" stroke-width="1.15"/>
<path d="M278.3 260.6L278.3 263.3" stroke-width="1.15"/>
<path d="M285.6 260.6L285.6 263.3" stroke-width="1.15"/>
<path d="M289.4 260.6L289.4 263.3" stroke-width="1.15"/>
<path d="M292 260.6L292 263.3" stroke-width="1.15"/>
<path d="M294.1 260.6L294.1 263.3" stroke-width="1.15"/>
<path d="M295.8 260.6L295.8 263.3" stroke-width="1.15"/>
<path d="M297.2 260.6L297.2 263.3" stroke-width="1.15"/>
<path d="M298.4 260.6L298.4 263.3" stroke-width="1.15"/>
<path d="M299.5 260.6L299.5 263.3" stroke-width="1.15"/>
<path d="M306.9 260.6L306.9 263.3" stroke-width="1.15"/>
<path d="M310.6 260.6L310.6 263.3" stroke-width="1.15"/>
<path d="M313.3 260.6L313.3 263.3" stroke-width="1.15"/>
<path d="M315.4 260.6L315.4 263.3" stroke-width="1.15"/>
<path d="M317 260.6L317 263.3" stroke-width="1.15"/>
<path d="M318.5 260.6L318.5 263.3" stroke-width="1.15"/>
<path d="M319.7 260.6L319.7 263.3" stroke-width="1.15"/>
<path d="M320.8 260.6L320.8 263.3" stroke-width="1.15"/>
<path d="M328.1 260.6L328.1 263.3" stroke-width="1.15"/>
<path d="M331.9 260.6L331.9 263.3" stroke-width="1.15"/>
<path d="M334.5 260.6L334.5 263.3" stroke-width="1.15"/>
<path d="M336.6 260.6L336.6 263.3" stroke-width="1.15"/>
<path d="M338.3 260.6L338.3 263.3" stroke-width="1.15"/>
<path d="M339.7 260.6L339.7 263.3" stroke-width="1.15"/>
<path d="M340.9 260.6L340.9 263.3" stroke-width="1.15"/>
<path d="M342 260.6L342 263.3" stroke-width="1.15"/>
<text class="n b" font-size="10.6" transform="translate(251.9 277.9) rotate(0) scale(0.85 1)">10<tspan dy="-5.8" dx="0.3">0</tspan></text>
<text class="n b" font-size="10.6" transform="translate(333.2 277.9) rotate(0) scale(0.85 1)">10<tspan dy="-5.8" dx="0.3">4</tspan></text>
<text class="n b" font-size="10.6" transform="translate(248.5 268.8) rotate(-90) scale(0.9 1)">10<tspan dy="-5.8" dx="2.0">0</tspan></text>
<text class="n b" font-size="10.6" transform="translate(248.5 204.2) rotate(-90) scale(0.9 1)">10<tspan dy="-5.8" dx="2.0">4</tspan></text>
<text class="s" x="232.2" y="262.7" font-size="12" transform="rotate(-90 232.2 262.7)" textLength="78.2" lengthAdjust="spacingAndGlyphs">CD138 PECY5</text>
<text class="s" x="265.8" y="287" font-size="12" textLength="67.2" lengthAdjust="spacingAndGlyphs">c lambda PE</text>
<path class="d" d="M301.5 199.5h0m33 0h0m-10 1h0m0 1h0m4 1h0m0 1h0m-33 1h0m2 0h0m4 0h0m21 0h0m7 0h0m-43 1h0m2 0h0m2 0h0m43 0h0m-41 1h0m4 0h1m22 0h0m10 0h0m3 0h0m-48 1h0m11 0h0m4 0h0m21 0h0m4 0h0m3 0h0m2 0h1m2 0h0m-46 1h0m16 0h0m25 0h3m3 0h0m-39 1h1m9 0h0m21 0h0m2 0h0m3 0h0m2 0h1m-43 1h0m4 0h1m3 0h0m3 0h0m3 0h0m16 0h0m4 0h5m2 0h0m5 0h0m-56 1h0m8 0h2m7 0h1m3 0h1m18 0h0m3 0h6m4 0h1m-50 1h0m2 0h0m4 0h0m2 0h0m4 0h0m2 0h0m2 0h0m22 0h0m4 0h0m2 0h3m7 0h0m-51 1h2m2 0h2m6 0h1m20 0h2m2 0h4m2 0h3m-57 1h0m12 0h1m2 0h1m2 0h2m2 0h0m18 0h0m4 0h1m3 0h0m2 0h5m2 0h1m-52 1h2m2 0h0m2 0h6m6 0h1m19 0h1m5 0h11m-53 1h0m3 0h3m3 0h1m3 0h0m2 0h0m22 0h1m2 0h6m4 0h3m3 0h0m-58 1h0m5 0h5m2 0h0m2 0h0m2 0h0m2 0h0m2 0h0m12 0h0m2 0h0m4 0h2m2 0h0m2 0h8m4 0h0m-57 1h0m2 0h14m2 0h0m22 0h0m2 0h1m2 0h5m3 0h2m2 0h0m-61 1h0m2 0h0m2 0h0m3 0h11m4 0h0m2 0h1m17 0h0m3 0h12m3 0h1m-59 1h0m4 0h0m2 0h8m2 0h1m2 0h2m9 0h0m12 0h1m2 0h7m2 0h1m2 0h3m-67 1h0m2 0h0m5 0h0m2 0h15m10 0h0m14 0h0m3 0h5m3 0h2m3 0h0m-57 1h2m2 0h0m2 0h8m2 0h4m24 0h3m2 0h8m-55 1h4m2 0h4m2 0h2m2 0h0m3 0h0m21 0h3m2 0h7m4 0h0m-63 1h0m6 0h0m3 0h11m3 0h3m3 0h0m4 0h0m3 0h0m13 0h10m2 0h1m-58 1h0m2 0h5m2 0h1m2 0h3m2 0h0m5 0h0m4 0h0m15 0h0m2 0h2m2 0h1m2 0h6m4 0h0m-61 1h1m3 0h2m2 0h1m2 0h5m2 0h1m3 0h0m4 0h0m16 0h0m4 0h10m2 0h0m-62 1h0m4 0h1m2 0h13m2 0h1m8 0h0m6 0h0m11 0h3m2 0h4m2 0h0m2 0h0m5 0h0m-64 1h0m4 0h7m2 0h1m2 0h2m8 0h0m24 0h1m2 0h2m2 0h1m3 0h0m3 0h0m-64 1h2m2 0h0m2 0h4m2 0h3m3 0h1m3 0h0m5 0h0m21 0h0m3 0h0m2 0h2m3 0h0m5 0h1m-65 1h0m2 0h0m4 0h0m2 0h0m3 0h1m2 0h3m2 0h3m2 0h0m4 0h0m16 0h0m4 0h0m3 0h1m3 0h0m2 0h0m2 0h0m2 0h0m-60 1h0m3 0h0m3 0h2m2 0h1m2 0h2m3 0h1m2 0h2m5 0h0m20 0h0m6 0h3m5 0h0m-60 1h0m4 0h3m6 0h0m2 0h1m11 0h0m12 0h0m3 0h0m5 0h0m4 0h0m4 0h1m2 0h0m-55 1h1m3 0h0m2 0h0m3 0h1m27 0h0m6 0h0m3 0h0m2 0h0m-49 1h0m2 0h4m2 0h1m4 0h0m4 0h0m12 0h0m22 0h0m-60 1h0m11 0h0m2 0h2m2 0h0m3 0h1m2 0h0m2 0h0m25 0h0m-44 1h0m5 0h0m2 0h1m3 0h0m2 0h0m3 0h1m2 0h0m-21 1h0m2 0h1m5 0h0m2 0h0m2 0h1m4 0h0m3 0h0m35 0h0m-55 1h0m5 0h0m7 0h5m3 0h0m5 0h0m25 0h0m-51 1h0m4 0h0m6 0h2m4 0h0m4 0h0m11 0h0m31 0h0m-55 1h0m2 0h0m5 0h0m2 0h0m3 0h0m4 0h0m4 0h0m-24 1h2m5 0h0m7 0h0m3 0h0m23 0h0m-40 1h0m4 0h0m3 0h1m3 0h0m3 0h1m17 0h0m26 0h0m4 0h0m-70 1h0m7 0h1m3 0h0m5 0h2m2 0h1m23 0h0m15 0h0m-54 1h0m5 0h3m2 0h5m2 0h0m2 0h0m-20 1h1m8 0h0m7 0h0m2 0h0m2 0h0m7 0h0m31 0h0m4 0h0m-67 1h0m9 0h3m2 0h0m3 0h1m2 0h0m4 0h0m11 0h0m-33 1h1m2 0h1m2 0h0m3 0h0m4 0h0m2 0h0m2 0h0m2 0h0m4 0h0m5 0h0m31 0h0m-57 1h0m5 0h3m6 0h1m2 0h1m3 0h0m32 0h0m2 0h0m6 0h0m-64 1h0m2 0h2m2 0h4m2 0h0m3 0h1m4 0h0m3 0h1m35 0h0m-60 1h0m2 0h0m2 0h0m2 0h0m2 0h2m2 0h2m4 0h1m2 0h0m3 0h0m6 0h0m36 0h0m-66 1h11m6 0h1m12 0h0m27 0h0m2 0h2m-64 1h0m3 0h10m2 0h2m4 0h1m2 0h0m2 0h1m41 0h0m-66 1h10m3 0h1m6 0h0m2 0h0m4 0h0m39 0h0m4 0h2m-74 1h16m2 0h1m2 0h1m-19 1h0m2 0h10m2 0h2m2 0h0m4 0h0m4 0h0m3 0h0m31 0h0m2 0h0m-64 1h15m3 0h0m4 0h0m5 0h0m13 0h0m20 0h0m9 0h0m5 0h0m-73 1h13m3 0h0m2 0h0m3 0h2m2 0h0m-25 1h12m3 0h0m2 0h1m8 0h0m4 0h1m-30 1h1m2 0h7m19 0h0" stroke-width="1.5"/>
<rect x="422.3" y="195.6" width="86.2" height="64.4" stroke-width="1.3"/>
<path d="M466.3 195.6L466.3 260" stroke-width="1.3"/>
<path d="M422.3 233.4L508.5 233.4" stroke-width="1.3"/>
<path d="M416.9 260L422.3 260" stroke-width="1.3"/>
<path d="M416.9 243.9L422.3 243.9" stroke-width="1.3"/>
<path d="M416.9 227.8L422.3 227.8" stroke-width="1.3"/>
<path d="M416.9 211.7L422.3 211.7" stroke-width="1.3"/>
<path d="M416.9 195.6L422.3 195.6" stroke-width="1.3"/>
<path d="M419.2 255.2L422.3 255.2" stroke-width="1.15"/>
<path d="M419.2 252.3L422.3 252.3" stroke-width="1.15"/>
<path d="M419.2 250.3L422.3 250.3" stroke-width="1.15"/>
<path d="M419.2 248.7L422.3 248.7" stroke-width="1.15"/>
<path d="M419.2 247.5L422.3 247.5" stroke-width="1.15"/>
<path d="M419.2 246.4L422.3 246.4" stroke-width="1.15"/>
<path d="M419.2 245.5L422.3 245.5" stroke-width="1.15"/>
<path d="M419.2 244.6L422.3 244.6" stroke-width="1.15"/>
<path d="M419.2 239.1L422.3 239.1" stroke-width="1.15"/>
<path d="M419.2 236.2L422.3 236.2" stroke-width="1.15"/>
<path d="M419.2 234.2L422.3 234.2" stroke-width="1.15"/>
<path d="M419.2 232.6L422.3 232.6" stroke-width="1.15"/>
<path d="M419.2 231.4L422.3 231.4" stroke-width="1.15"/>
<path d="M419.2 230.3L422.3 230.3" stroke-width="1.15"/>
<path d="M419.2 229.4L422.3 229.4" stroke-width="1.15"/>
<path d="M419.2 228.5L422.3 228.5" stroke-width="1.15"/>
<path d="M419.2 223L422.3 223" stroke-width="1.15"/>
<path d="M419.2 220.1L422.3 220.1" stroke-width="1.15"/>
<path d="M419.2 218.1L422.3 218.1" stroke-width="1.15"/>
<path d="M419.2 216.5L422.3 216.5" stroke-width="1.15"/>
<path d="M419.2 215.3L422.3 215.3" stroke-width="1.15"/>
<path d="M419.2 214.2L422.3 214.2" stroke-width="1.15"/>
<path d="M419.2 213.3L422.3 213.3" stroke-width="1.15"/>
<path d="M419.2 212.4L422.3 212.4" stroke-width="1.15"/>
<path d="M419.2 206.9L422.3 206.9" stroke-width="1.15"/>
<path d="M419.2 204L422.3 204" stroke-width="1.15"/>
<path d="M419.2 202L422.3 202" stroke-width="1.15"/>
<path d="M419.2 200.4L422.3 200.4" stroke-width="1.15"/>
<path d="M419.2 199.2L422.3 199.2" stroke-width="1.15"/>
<path d="M419.2 198.1L422.3 198.1" stroke-width="1.15"/>
<path d="M419.2 197.2L422.3 197.2" stroke-width="1.15"/>
<path d="M419.2 196.3L422.3 196.3" stroke-width="1.15"/>
<path d="M422.3 260L422.3 264.8" stroke-width="1.3"/>
<path d="M443.9 260L443.9 264.8" stroke-width="1.3"/>
<path d="M465.4 260L465.4 264.8" stroke-width="1.3"/>
<path d="M486.9 260L486.9 264.8" stroke-width="1.3"/>
<path d="M508.5 260L508.5 264.8" stroke-width="1.3"/>
<path d="M428.8 260L428.8 262.7" stroke-width="1.15"/>
<path d="M432.6 260L432.6 262.7" stroke-width="1.15"/>
<path d="M435.3 260L435.3 262.7" stroke-width="1.15"/>
<path d="M437.4 260L437.4 262.7" stroke-width="1.15"/>
<path d="M439.1 260L439.1 262.7" stroke-width="1.15"/>
<path d="M440.5 260L440.5 262.7" stroke-width="1.15"/>
<path d="M441.8 260L441.8 262.7" stroke-width="1.15"/>
<path d="M442.9 260L442.9 262.7" stroke-width="1.15"/>
<path d="M450.3 260L450.3 262.7" stroke-width="1.15"/>
<path d="M454.1 260L454.1 262.7" stroke-width="1.15"/>
<path d="M456.8 260L456.8 262.7" stroke-width="1.15"/>
<path d="M458.9 260L458.9 262.7" stroke-width="1.15"/>
<path d="M460.6 260L460.6 262.7" stroke-width="1.15"/>
<path d="M462.1 260L462.1 262.7" stroke-width="1.15"/>
<path d="M463.3 260L463.3 262.7" stroke-width="1.15"/>
<path d="M464.4 260L464.4 262.7" stroke-width="1.15"/>
<path d="M471.9 260L471.9 262.7" stroke-width="1.15"/>
<path d="M475.7 260L475.7 262.7" stroke-width="1.15"/>
<path d="M478.4 260L478.4 262.7" stroke-width="1.15"/>
<path d="M480.5 260L480.5 262.7" stroke-width="1.15"/>
<path d="M482.2 260L482.2 262.7" stroke-width="1.15"/>
<path d="M483.6 260L483.6 262.7" stroke-width="1.15"/>
<path d="M484.9 260L484.9 262.7" stroke-width="1.15"/>
<path d="M486 260L486 262.7" stroke-width="1.15"/>
<path d="M493.4 260L493.4 262.7" stroke-width="1.15"/>
<path d="M497.2 260L497.2 262.7" stroke-width="1.15"/>
<path d="M499.9 260L499.9 262.7" stroke-width="1.15"/>
<path d="M502 260L502 262.7" stroke-width="1.15"/>
<path d="M503.7 260L503.7 262.7" stroke-width="1.15"/>
<path d="M505.2 260L505.2 262.7" stroke-width="1.15"/>
<path d="M506.4 260L506.4 262.7" stroke-width="1.15"/>
<path d="M507.5 260L507.5 262.7" stroke-width="1.15"/>
<text class="n b" font-size="10.6" transform="translate(416.5 277.3) rotate(0) scale(0.85 1)">10<tspan dy="-5.8" dx="0.3">0</tspan></text>
<text class="n b" font-size="10.6" transform="translate(499.7 277.3) rotate(0) scale(0.85 1)">10<tspan dy="-5.8" dx="0.3">4</tspan></text>
<text class="n b" font-size="10.6" transform="translate(412.8 268.2) rotate(-90) scale(0.9 1)">10<tspan dy="-5.8" dx="2.0">0</tspan></text>
<text class="n b" font-size="10.6" transform="translate(412.8 203.8) rotate(-90) scale(0.9 1)">10<tspan dy="-5.8" dx="2.0">4</tspan></text>
<text class="s" x="397" y="262.3" font-size="12" transform="rotate(-90 397 262.3)" textLength="77.4" lengthAdjust="spacingAndGlyphs">CD138 PECY5</text>
<text class="s" x="434.6" y="282.5" font-size="12" textLength="60.4" lengthAdjust="spacingAndGlyphs">c kappa PE</text>
<path class="d" d="M485.5 197.5h0m-10 1h0m4 0h0m8 0h0m-7 1h0m-8 1h1m13 0h0m5 0h0m-19 1h0m2 0h0m12 0h0m-29 1h1m-18 1h0m6 0h0m27 0h0m15 0h0m6 0h0m-54 1h0m5 0h0m11 0h0m17 0h0m6 0h1m3 0h0m5 0h0m-41 1h0m17 0h0m6 0h0m3 0h0m7 0h0m2 0h0m2 0h0m4 0h0m3 0h1m-45 1h0m4 0h1m6 0h0m16 0h2m4 0h0m2 0h0m5 0h6m-52 1h0m6 0h0m6 0h0m10 0h0m5 0h0m4 0h0m3 0h2m2 0h0m2 0h0m5 0h1m2 0h0m3 0h1m5 0h0m-56 1h1m10 0h1m14 0h0m3 0h0m2 0h0m2 0h0m4 0h1m2 0h3m3 0h0m2 0h0m2 0h1m2 0h0m-57 1h0m2 0h0m2 0h0m4 0h0m3 0h2m11 0h0m7 0h1m2 0h0m4 0h0m4 0h0m2 0h1m2 0h0m2 0h0m4 0h0m3 0h0m8 0h0m-61 1h0m5 0h0m2 0h0m2 0h0m3 0h1m2 0h0m3 0h0m7 0h1m5 0h1m4 0h0m2 0h7m4 0h0m-54 1h0m6 0h0m2 0h0m2 0h1m3 0h0m3 0h0m8 0h0m2 0h0m3 0h0m5 0h2m2 0h0m2 0h6m2 0h0m2 0h0m3 0h0m5 0h0m-54 1h0m5 0h0m2 0h1m6 0h1m2 0h0m7 0h1m3 0h1m2 0h0m2 0h2m2 0h5m2 0h3m5 0h1m-51 1h3m2 0h2m3 0h2m6 0h0m2 0h1m2 0h3m3 0h2m2 0h0m2 0h0m2 0h2m2 0h0m2 0h0m6 0h0m3 0h0m2 0h2m6 0h0m-70 1h2m5 0h1m2 0h2m2 0h10m5 0h0m7 0h0m3 0h1m3 0h7m3 0h4m3 0h0m8 0h0m-59 1h0m2 0h1m3 0h2m2 0h1m2 0h0m5 0h1m4 0h2m3 0h0m2 0h3m2 0h1m2 0h2m2 0h5m3 0h0m2 0h2m-61 1h0m7 0h2m2 0h0m2 0h4m2 0h0m3 0h1m7 0h0m3 0h2m2 0h1m2 0h12m2 0h4m11 0h0m-63 1h1m2 0h9m3 0h0m3 0h0m6 0h0m2 0h1m2 0h1m2 0h1m2 0h3m2 0h1m2 0h6m2 0h0m2 0h0m3 0h1m-59 1h2m3 0h2m2 0h1m3 0h1m2 0h0m2 0h0m2 0h0m8 0h1m3 0h0m2 0h12m4 0h0m3 0h0m3 0h0m6 0h0m-66 1h0m2 0h0m3 0h0m3 0h11m3 0h0m3 0h0m6 0h0m3 0h7m2 0h0m2 0h9m2 0h0m5 0h0m-57 1h0m3 0h1m2 0h0m3 0h2m2 0h1m4 0h0m2 0h0m9 0h10m2 0h1m3 0h2m2 0h2m3 0h0m2 0h1m-57 1h0m3 0h7m2 0h1m2 0h2m6 0h0m3 0h1m3 0h0m2 0h1m2 0h7m2 0h4m4 0h0m11 0h1m-68 1h0m3 0h0m2 0h0m3 0h0m2 0h2m2 0h0m2 0h0m2 0h0m2 0h1m4 0h0m2 0h1m2 0h0m3 0h3m3 0h0m2 0h6m2 0h1m4 0h2m2 0h2m2 0h0m-60 1h0m3 0h1m2 0h3m2 0h1m3 0h0m2 0h0m2 0h5m2 0h0m2 0h0m2 0h1m2 0h2m3 0h4m2 0h2m2 0h4m4 0h0m-63 1h0m5 0h0m5 0h0m2 0h3m2 0h4m3 0h1m2 0h2m3 0h0m3 0h1m3 0h3m2 0h2m3 0h2m2 0h2m4 0h0m8 0h0m-62 1h1m4 0h0m5 0h2m2 0h3m4 0h1m2 0h0m9 0h0m3 0h0m3 0h0m3 0h0m2 0h3m2 0h0m4 0h0m6 0h0m-57 1h0m3 0h1m3 0h3m3 0h1m2 0h0m2 0h1m3 0h0m3 0h0m2 0h0m2 0h0m2 0h1m5 0h0m2 0h0m2 0h0m2 0h1m2 0h0m5 0h1m4 0h0m-50 1h1m5 0h0m13 0h0m4 0h0m7 0h1m2 0h1m3 0h0m8 0h0m-43 1h0m6 0h0m4 0h0m5 0h0m10 0h0m3 0h0m2 0h0m8 0h0m12 0h0m-62 1h0m14 0h0m4 0h1m4 0h1m17 0h0m2 0h1m2 0h0m3 0h0m4 0h0m4 0h1m-45 1h2m3 0h0m4 0h1m6 0h0m5 0h1m2 0h3m3 0h0m3 0h0m3 0h1m5 0h0m-54 1h0m5 0h0m5 0h0m10 0h0m12 0h0m4 0h0m18 0h0m-53 1h0m4 0h0m2 0h0m9 0h1m3 0h0m24 0h0m3 0h0m5 0h1m-44 1h0m3 0h0m2 0h0m2 0h1m3 0h0m3 0h0m14 0h0m2 0h0m3 0h1m12 0h0m-52 1h0m4 0h1m4 0h0m4 0h0m2 0h0m4 0h0m7 0h0m7 0h0m3 0h0m3 0h0m9 0h0m-40 1h0m4 0h1m2 0h1m5 0h1m9 0h0m3 0h1m4 0h0m5 0h0m7 0h0m3 0h0m3 0h0m-52 1h0m3 0h2m7 0h1m5 0h0m3 0h0m3 0h0m2 0h0m2 0h0m2 0h0m5 0h1m5 0h0m-50 1h0m9 0h1m2 0h0m2 0h0m2 0h0m3 0h1m2 0h1m4 0h0m4 0h0m2 0h0m2 0h0m3 0h0m5 0h0m4 0h0m2 0h0m4 0h0m2 0h0m-52 1h0m7 0h0m4 0h0m6 0h1m2 0h0m4 0h0m6 0h0m9 0h0m4 0h0m2 0h1m2 0h1m6 0h0m2 0h0m-60 1h0m12 0h1m4 0h0m3 0h0m8 0h1m10 0h0m4 0h0m4 0h0m2 0h0m2 0h0m-53 1h0m12 0h0m2 0h0m2 0h1m6 0h0m3 0h0m6 0h0m2 0h0m9 0h0m2 0h0m3 0h1m15 0h0m-56 1h1m3 0h2m2 0h0m2 0h1m3 0h1m2 0h0m2 0h0m2 0h1m6 0h0m2 0h0m2 0h0m2 0h0m4 0h0m2 0h0m11 0h0m-55 1h0m5 0h0m2 0h1m2 0h2m2 0h1m2 0h0m2 0h0m3 0h1m2 0h0m5 0h0m2 0h1m2 0h0m2 0h0m4 0h0m5 0h0m-47 1h0m5 0h0m2 0h0m4 0h2m2 0h1m3 0h0m3 0h0m2 0h0m14 0h0m5 0h0m5 0h0m10 0h0m-53 1h0m3 0h0m2 0h1m3 0h0m2 0h0m18 0h0m9 0h0m3 0h0m9 0h0m-56 1h0m9 0h0m8 0h0m2 0h0m3 0h1m17 0h1m2 0h1m5 0h0m5 0h0m-48 1h0m5 0h0m2 0h0m8 0h0m2 0h0m6 0h0m5 0h0m7 0h1m2 0h0m4 0h0m5 0h0m-59 1h0m2 0h1m9 0h2m2 0h2m3 0h2m8 0h1m2 0h0m2 0h0m13 0h0m16 0h0m-57 1h0m4 0h0m3 0h0m2 0h0m4 0h0m2 0h0m3 0h0m4 0h0m7 0h0m9 0h0m2 0h0m6 0h1m12 0h0m-63 1h1m3 0h2m4 0h0m3 0h0m4 0h0m6 0h1m5 0h0m3 0h0m-33 1h0m3 0h3m2 0h1m2 0h0m4 0h0m2 0h2m2 0h0m12 0h0m16 0h0m2 0h0m8 0h0m-59 1h1m2 0h14m3 0h0m2 0h0m14 0h0m8 0h0m-46 1h0m2 0h10m6 0h0m4 0h1m2 0h0m8 0h0m3 0h0m21 0h0m-58 1h3m2 0h12m11 0h0m3 0h0m17 0h0m3 0h0m5 0h0m-55 1h17m2 0h0m2 0h2m3 0h0m5 0h0m-32 1h15m3 0h2m4 0h0m-23 1h15m10 0h0m11 0h0m-39 1h1m2 0h9m2 0h3m5 0h0m15 0h0m22 0h0m-57 1h0m2 0h11m5 0h0m4 0h0m8 0h0m8 0h0m3 0h0" stroke-width="1.5"/>
<rect x="40.5" y="436" width="122.7" height="92.1" stroke-width="1.3"/>
<path d="M34.5 528.1L40.5 528.1" stroke-width="1.4"/>
<path d="M34.5 505.1L40.5 505.1" stroke-width="1.4"/>
<path d="M34.5 482.1L40.5 482.1" stroke-width="1.4"/>
<path d="M34.5 459L40.5 459" stroke-width="1.4"/>
<path d="M34.5 436L40.5 436" stroke-width="1.4"/>
<path d="M36.9 521.2L40.5 521.2" stroke-width="1.1"/>
<path d="M36.9 517.1L40.5 517.1" stroke-width="1.1"/>
<path d="M36.9 514.2L40.5 514.2" stroke-width="1.1"/>
<path d="M36.9 512L40.5 512" stroke-width="1.1"/>
<path d="M36.9 510.2L40.5 510.2" stroke-width="1.1"/>
<path d="M36.9 508.6L40.5 508.6" stroke-width="1.1"/>
<path d="M36.9 507.3L40.5 507.3" stroke-width="1.1"/>
<path d="M36.9 506.1L40.5 506.1" stroke-width="1.1"/>
<path d="M36.9 498.1L40.5 498.1" stroke-width="1.1"/>
<path d="M36.9 494.1L40.5 494.1" stroke-width="1.1"/>
<path d="M36.9 491.2L40.5 491.2" stroke-width="1.1"/>
<path d="M36.9 489L40.5 489" stroke-width="1.1"/>
<path d="M36.9 487.2L40.5 487.2" stroke-width="1.1"/>
<path d="M36.9 485.6L40.5 485.6" stroke-width="1.1"/>
<path d="M36.9 484.3L40.5 484.3" stroke-width="1.1"/>
<path d="M36.9 483.1L40.5 483.1" stroke-width="1.1"/>
<path d="M36.9 475.1L40.5 475.1" stroke-width="1.1"/>
<path d="M36.9 471.1L40.5 471.1" stroke-width="1.1"/>
<path d="M36.9 468.2L40.5 468.2" stroke-width="1.1"/>
<path d="M36.9 466L40.5 466" stroke-width="1.1"/>
<path d="M36.9 464.1L40.5 464.1" stroke-width="1.1"/>
<path d="M36.9 462.6L40.5 462.6" stroke-width="1.1"/>
<path d="M36.9 461.3L40.5 461.3" stroke-width="1.1"/>
<path d="M36.9 460.1L40.5 460.1" stroke-width="1.1"/>
<path d="M36.9 452.1L40.5 452.1" stroke-width="1.1"/>
<path d="M36.9 448L40.5 448" stroke-width="1.1"/>
<path d="M36.9 445.2L40.5 445.2" stroke-width="1.1"/>
<path d="M36.9 442.9L40.5 442.9" stroke-width="1.1"/>
<path d="M36.9 441.1L40.5 441.1" stroke-width="1.1"/>
<path d="M36.9 439.6L40.5 439.6" stroke-width="1.1"/>
<path d="M36.9 438.2L40.5 438.2" stroke-width="1.1"/>
<path d="M36.9 437.1L40.5 437.1" stroke-width="1.1"/>
<text class="n b" font-size="10.6" transform="translate(29.9 535.6) rotate(-90) scale(0.9 1)">10<tspan dy="-5.8" dx="2.0">0</tspan></text>
<text class="n b" font-size="10.6" transform="translate(29.9 512.6) rotate(-90) scale(0.9 1)">10<tspan dy="-5.8" dx="2.0">1</tspan></text>
<text class="n b" font-size="10.6" transform="translate(29.9 489.6) rotate(-90) scale(0.9 1)">10<tspan dy="-5.8" dx="2.0">2</tspan></text>
<text class="n b" font-size="10.6" transform="translate(29.9 466.5) rotate(-90) scale(0.9 1)">10<tspan dy="-5.8" dx="2.0">3</tspan></text>
<text class="n b" font-size="10.6" transform="translate(29.9 443.5) rotate(-90) scale(0.9 1)">10<tspan dy="-5.8" dx="2.0">4</tspan></text>
<path d="M40.5 528.1L40.5 533.6" stroke-width="1.3"/>
<path d="M71.2 528.1L71.2 533.6" stroke-width="1.3"/>
<path d="M101.8 528.1L101.8 533.6" stroke-width="1.3"/>
<path d="M132.5 528.1L132.5 533.6" stroke-width="1.3"/>
<path d="M163.2 528.1L163.2 533.6" stroke-width="1.3"/>
<path d="M49.7 528.1L49.7 531.3" stroke-width="1.0"/>
<path d="M55.1 528.1L55.1 531.3" stroke-width="1.0"/>
<path d="M59 528.1L59 531.3" stroke-width="1.0"/>
<path d="M61.9 528.1L61.9 531.3" stroke-width="1.0"/>
<path d="M64.4 528.1L64.4 531.3" stroke-width="1.0"/>
<path d="M66.4 528.1L66.4 531.3" stroke-width="1.0"/>
<path d="M68.2 528.1L68.2 531.3" stroke-width="1.0"/>
<path d="M69.8 528.1L69.8 531.3" stroke-width="1.0"/>
<path d="M80.4 528.1L80.4 531.3" stroke-width="1.0"/>
<path d="M85.8 528.1L85.8 531.3" stroke-width="1.0"/>
<path d="M89.6 528.1L89.6 531.3" stroke-width="1.0"/>
<path d="M92.6 528.1L92.6 531.3" stroke-width="1.0"/>
<path d="M95 528.1L95 531.3" stroke-width="1.0"/>
<path d="M97.1 528.1L97.1 531.3" stroke-width="1.0"/>
<path d="M98.9 528.1L98.9 531.3" stroke-width="1.0"/>
<path d="M100.4 528.1L100.4 531.3" stroke-width="1.0"/>
<path d="M111.1 528.1L111.1 531.3" stroke-width="1.0"/>
<path d="M116.5 528.1L116.5 531.3" stroke-width="1.0"/>
<path d="M120.3 528.1L120.3 531.3" stroke-width="1.0"/>
<path d="M123.3 528.1L123.3 531.3" stroke-width="1.0"/>
<path d="M125.7 528.1L125.7 531.3" stroke-width="1.0"/>
<path d="M127.8 528.1L127.8 531.3" stroke-width="1.0"/>
<path d="M129.6 528.1L129.6 531.3" stroke-width="1.0"/>
<path d="M131.1 528.1L131.1 531.3" stroke-width="1.0"/>
<path d="M141.8 528.1L141.8 531.3" stroke-width="1.0"/>
<path d="M147.2 528.1L147.2 531.3" stroke-width="1.0"/>
<path d="M151 528.1L151 531.3" stroke-width="1.0"/>
<path d="M154 528.1L154 531.3" stroke-width="1.0"/>
<path d="M156.4 528.1L156.4 531.3" stroke-width="1.0"/>
<path d="M158.4 528.1L158.4 531.3" stroke-width="1.0"/>
<path d="M160.2 528.1L160.2 531.3" stroke-width="1.0"/>
<path d="M161.8 528.1L161.8 531.3" stroke-width="1.0"/>
<text class="n b" font-size="10.6" transform="translate(33.7 548.1) rotate(0) scale(0.85 1)">10<tspan dy="-5.8" dx="0.3">0</tspan></text>
<text class="n b" font-size="10.6" transform="translate(64.4 548.1) rotate(0) scale(0.85 1)">10<tspan dy="-5.8" dx="0.3">1</tspan></text>
<text class="n b" font-size="10.6" transform="translate(95 548.1) rotate(0) scale(0.85 1)">10<tspan dy="-5.8" dx="0.3">2</tspan></text>
<text class="n b" font-size="10.6" transform="translate(125.7 548.1) rotate(0) scale(0.85 1)">10<tspan dy="-5.8" dx="0.3">3</tspan></text>
<text class="n b" font-size="10.6" transform="translate(156.4 548.1) rotate(0) scale(0.85 1)">10<tspan dy="-5.8" dx="0.3">4</tspan></text>
<path class="d" d="M83.5 440.5h0m10 0h0m-20 1h0m17 6h0m-8 2h0m0 1h0m-2 1h0m6 1h0m23 2h0m-20 1h0m-9 1h0m24 0h0m-1 1h0m-21 1h1m32 0h0m-29 1h1m6 0h0m5 1h0m2 0h0m-13 1h0m-3 1h1m2 0h1m11 0h0m-19 1h1m3 0h2m4 0h0m0 1h0m-9 1h1m3 0h4m2 0h0m2 0h0m-15 1h0m8 0h1m3 0h1m-8 1h0m4 0h2m4 0h0m-9 1h0m3 0h2m-7 1h4m4 0h0m15 0h0m-26 1h0m2 0h0m2 0h4m2 0h0m-11 1h0m2 0h0m2 0h0m4 0h0m2 0h0m2 0h1m-10 1h0m3 0h2m2 0h0m2 0h0m-11 1h4m2 0h2m-15 1h0m11 0h2m3 0h1m-4 1h0m3 0h1m2 0h0m-7 1h0m2 0h0m3 0h0m-8 1h0m5 0h1m-4 1h1m2 0h2m-6 1h0m2 0h0m-1 1h0m5 0h0m-3 1h0m2 0h0m0 1h0m-8 1h0m4 0h0m2 0h0m5 0h1m-17 1h0m14 0h0m-21 1h0m7 0h0m10 0h0m4 0h0m3 0h1m-16 1h0m3 0h0m2 0h0m2 0h0m4 0h0m29 0h0m-40 1h0m3 0h2m2 0h0m8 0h1m23 0h0m-38 1h0m2 0h0m4 0h0m5 0h0m2 0h0m25 0h0m-32 1h1m2 0h0m7 0h1m19 0h0m4 0h0m-34 1h0m5 0h0m18 0h0m2 0h1m5 0h0m-39 1h0m8 0h0m16 0h0m5 0h0m7 0h1m-29 1h0m3 0h0m6 0h0m14 0h1m3 0h0m4 0h0m-32 1h0m3 0h0m4 0h0m4 0h0m11 0h0m-24 1h0m2 0h1m2 0h0m9 0h0m9 0h0m2 0h0m2 0h0m-27 1h0m3 0h0m10 0h0m4 0h0m6 0h1m3 0h1m2 0h0m3 0h0m-39 1h2m2 0h0m4 0h0m4 0h0m11 0h0m10 0h0m-39 1h0m9 0h0m3 0h0m3 0h0m5 0h1m2 0h1m4 0h0m4 0h0m2 0h0m2 0h0m-33 1h0m6 0h0m4 0h0m2 0h0m4 0h0m4 0h0m3 0h2m2 0h1m-28 1h0m5 0h0m15 0h1m2 0h6m2 0h0m3 0h0m-32 1h1m3 0h1m3 0h1m3 0h1m5 0h7m3 0h1m-28 1h0m8 0h0m3 0h2m4 0h0m2 0h5m-16 1h3m4 0h8m3 0h0m-30 1h1m3 0h0m3 0h0m2 0h0m2 0h1m6 0h10m2 0h0m-29 1h0m5 0h2m3 0h0m2 0h1m2 0h4m2 0h2m2 0h1m2 0h0m-32 1h0m2 0h0m2 0h1m3 0h0m2 0h1m4 0h2m2 0h8m-23 1h6m2 0h2m2 0h1m2 0h2m3 0h2m2 0h0m-26 1h14m2 0h1m3 0h2m2 0h1m-25 1h11m2 0h0m2 0h4m-17 1h11m2 0h0m2 0h0m3 0h0m2 0h0m3 0h0m-29 1h0m4 0h12m2 0h1m4 0h0m6 0h0m-29 1h0m2 0h1m2 0h10m2 0h0m2 0h2m2 0h0m5 0h0m2 0h0m-29 1h0m3 0h1m2 0h10m3 0h0m8 0h0m-24 1h12m2 0h0m2 0h0m3 0h0m3 0h0m-23 1h14m3 0h2m3 0h0m-25 1h0m5 0h8m2 0h1m5 0h0m-18 1h13m3 0h0m-16 1h16m-17 1h0m2 0h0m2 0h9m-14 1h1m2 0h13m2 0h0m-22 1h0m4 0h0m3 0h10m2 0h0m2 0h1m-18 1h16m-13 1h13m3 0h0m-16 1h12m-16 1h0m3 0h7m2 0h3m3 0h0m-13 1h9m-12 1h0m3 0h3m2 0h0m2 0h1m2 0h1m2 0h0" stroke-width="1.5"/>
<path d="M77.5 456.8L88.9 450.8L96.3 456.8L94.7 481.7L92.3 487.8L83.5 487.1L75.9 479.7Z" stroke-width="1.25"/>
<path d="M88.3 488L88.3 495.2" stroke-width="1.0"/>
<text class="s b" x="48" y="452" font-size="15.5">C</text>
<text class="n b" x="131" y="459" font-size="10" font-weight="bold">R 2</text>
<text class="s" x="11.2" y="522.6" font-size="12" transform="rotate(-90 11.2 522.6)" textLength="74.7" lengthAdjust="spacingAndGlyphs">CD138 PECY5</text>
<text class="s" x="69.2" y="558" font-size="12.5" textLength="69.3" lengthAdjust="spacingAndGlyphs">SSC-H  (log)</text>
<rect x="261.2" y="370.5" width="86.8" height="66" stroke-width="1.3"/>
<path d="M283.3 370.5L283.3 436.5" stroke-width="1.3"/>
<path d="M261.2 406.8L348 406.8" stroke-width="1.3"/>
<path d="M255.8 436.5L261.2 436.5" stroke-width="1.3"/>
<path d="M255.8 420L261.2 420" stroke-width="1.3"/>
<path d="M255.8 403.5L261.2 403.5" stroke-width="1.3"/>
<path d="M255.8 387L261.2 387" stroke-width="1.3"/>
<path d="M255.8 370.5L261.2 370.5" stroke-width="1.3"/>
<path d="M258.1 431.5L261.2 431.5" stroke-width="1.15"/>
<path d="M258.1 428.6L261.2 428.6" stroke-width="1.15"/>
<path d="M258.1 426.6L261.2 426.6" stroke-width="1.15"/>
<path d="M258.1 425L261.2 425" stroke-width="1.15"/>
<path d="M258.1 423.7L261.2 423.7" stroke-width="1.15"/>
<path d="M258.1 422.6L261.2 422.6" stroke-width="1.15"/>
<path d="M258.1 421.6L261.2 421.6" stroke-width="1.15"/>
<path d="M258.1 420.8L261.2 420.8" stroke-width="1.15"/>
<path d="M258.1 415L261.2 415" stroke-width="1.15"/>
<path d="M258.1 412.1L261.2 412.1" stroke-width="1.15"/>
<path d="M258.1 410.1L261.2 410.1" stroke-width="1.15"/>
<path d="M258.1 408.5L261.2 408.5" stroke-width="1.15"/>
<path d="M258.1 407.2L261.2 407.2" stroke-width="1.15"/>
<path d="M258.1 406.1L261.2 406.1" stroke-width="1.15"/>
<path d="M258.1 405.1L261.2 405.1" stroke-width="1.15"/>
<path d="M258.1 404.3L261.2 404.3" stroke-width="1.15"/>
<path d="M258.1 398.5L261.2 398.5" stroke-width="1.15"/>
<path d="M258.1 395.6L261.2 395.6" stroke-width="1.15"/>
<path d="M258.1 393.6L261.2 393.6" stroke-width="1.15"/>
<path d="M258.1 392L261.2 392" stroke-width="1.15"/>
<path d="M258.1 390.7L261.2 390.7" stroke-width="1.15"/>
<path d="M258.1 389.6L261.2 389.6" stroke-width="1.15"/>
<path d="M258.1 388.6L261.2 388.6" stroke-width="1.15"/>
<path d="M258.1 387.8L261.2 387.8" stroke-width="1.15"/>
<path d="M258.1 382L261.2 382" stroke-width="1.15"/>
<path d="M258.1 379.1L261.2 379.1" stroke-width="1.15"/>
<path d="M258.1 377.1L261.2 377.1" stroke-width="1.15"/>
<path d="M258.1 375.5L261.2 375.5" stroke-width="1.15"/>
<path d="M258.1 374.2L261.2 374.2" stroke-width="1.15"/>
<path d="M258.1 373.1L261.2 373.1" stroke-width="1.15"/>
<path d="M258.1 372.1L261.2 372.1" stroke-width="1.15"/>
<path d="M258.1 371.3L261.2 371.3" stroke-width="1.15"/>
<path d="M261.2 436.5L261.2 441.3" stroke-width="1.3"/>
<path d="M282.9 436.5L282.9 441.3" stroke-width="1.3"/>
<path d="M304.6 436.5L304.6 441.3" stroke-width="1.3"/>
<path d="M326.3 436.5L326.3 441.3" stroke-width="1.3"/>
<path d="M348 436.5L348 441.3" stroke-width="1.3"/>
<path d="M267.7 436.5L267.7 439.2" stroke-width="1.15"/>
<path d="M271.6 436.5L271.6 439.2" stroke-width="1.15"/>
<path d="M274.3 436.5L274.3 439.2" stroke-width="1.15"/>
<path d="M276.4 436.5L276.4 439.2" stroke-width="1.15"/>
<path d="M278.1 436.5L278.1 439.2" stroke-width="1.15"/>
<path d="M279.5 436.5L279.5 439.2" stroke-width="1.15"/>
<path d="M280.8 436.5L280.8 439.2" stroke-width="1.15"/>
<path d="M281.9 436.5L281.9 439.2" stroke-width="1.15"/>
<path d="M289.4 436.5L289.4 439.2" stroke-width="1.15"/>
<path d="M293.3 436.5L293.3 439.2" stroke-width="1.15"/>
<path d="M296 436.5L296 439.2" stroke-width="1.15"/>
<path d="M298.1 436.5L298.1 439.2" stroke-width="1.15"/>
<path d="M299.8 436.5L299.8 439.2" stroke-width="1.15"/>
<path d="M301.2 436.5L301.2 439.2" stroke-width="1.15"/>
<path d="M302.5 436.5L302.5 439.2" stroke-width="1.15"/>
<path d="M303.6 436.5L303.6 439.2" stroke-width="1.15"/>
<path d="M311.1 436.5L311.1 439.2" stroke-width="1.15"/>
<path d="M315 436.5L315 439.2" stroke-width="1.15"/>
<path d="M317.7 436.5L317.7 439.2" stroke-width="1.15"/>
<path d="M319.8 436.5L319.8 439.2" stroke-width="1.15"/>
<path d="M321.5 436.5L321.5 439.2" stroke-width="1.15"/>
<path d="M322.9 436.5L322.9 439.2" stroke-width="1.15"/>
<path d="M324.2 436.5L324.2 439.2" stroke-width="1.15"/>
<path d="M325.3 436.5L325.3 439.2" stroke-width="1.15"/>
<path d="M332.8 436.5L332.8 439.2" stroke-width="1.15"/>
<path d="M336.7 436.5L336.7 439.2" stroke-width="1.15"/>
<path d="M339.4 436.5L339.4 439.2" stroke-width="1.15"/>
<path d="M341.5 436.5L341.5 439.2" stroke-width="1.15"/>
<path d="M343.2 436.5L343.2 439.2" stroke-width="1.15"/>
<path d="M344.6 436.5L344.6 439.2" stroke-width="1.15"/>
<path d="M345.9 436.5L345.9 439.2" stroke-width="1.15"/>
<path d="M347 436.5L347 439.2" stroke-width="1.15"/>
<text class="n b" font-size="10.6" transform="translate(254.2 453.8) rotate(0) scale(0.85 1)">10<tspan dy="-5.8" dx="0.3">0</tspan></text>
<text class="n b" font-size="10.6" transform="translate(338.7 453.8) rotate(0) scale(0.85 1)">10<tspan dy="-5.8" dx="0.3">4</tspan></text>
<text class="n b" font-size="10.6" transform="translate(251.7 444.7) rotate(-90) scale(0.9 1)">10<tspan dy="-5.8" dx="2.0">0</tspan></text>
<text class="n b" font-size="10.6" transform="translate(251.7 378.7) rotate(-90) scale(0.9 1)">10<tspan dy="-5.8" dx="2.0">4</tspan></text>
<text class="s" x="232.5" y="439.2" font-size="12" transform="rotate(-90 232.5 439.2)" textLength="77" lengthAdjust="spacingAndGlyphs">CD138 PECY5</text>
<text class="s" x="284.6" y="457" font-size="12" textLength="42" lengthAdjust="spacingAndGlyphs">IgG1 PE</text>
<path class="d" d="M268.5 372.5h0m2 1h0m3 1h0m3 1h0m-7 1h0m-5 1h1m4 1h0m2 0h0m-5 1h0m-4 1h0m2 0h0m3 0h2m6 0h0m-12 1h1m3 0h0m-3 1h1m2 0h4m3 0h1m9 0h0m7 0h0m-27 1h3m2 0h5m2 0h0m2 0h0m-16 1h3m2 0h4m9 0h0m4 0h0m-21 1h13m2 0h0m4 0h0m-18 1h8m2 0h0m2 0h2m2 0h0m3 0h0m-21 1h7m2 0h8m2 0h1m-19 1h8m2 0h8m-19 1h16m2 0h2m54 0h0m-74 1h19m2 0h0m-21 1h17m2 0h1m-19 1h20m-21 1h19m2 0h0m50 0h0m-71 1h20m2 0h0m-22 1h19m2 0h0m8 0h0m-29 1h21m-21 1h21m-21 1h22m41 0h0m-62 1h20m-21 1h0m3 0h16m2 0h0m-20 1h19m45 0h0m-64 1h4m2 0h6m2 0h4m2 0h0m-19 1h8m3 0h4m38 0h0m-55 1h0m2 0h1m2 0h2m2 0h4m2 0h1m2 0h0m2 0h0m-19 1h0m2 0h0m2 0h1m2 0h0m2 0h5m2 0h1m-14 1h1m8 0h1m2 0h0" stroke-width="1.5"/>
<rect x="423.8" y="370.4" width="87.2" height="65.6" stroke-width="1.3"/>
<path d="M446.3 370.4L446.3 436" stroke-width="1.3"/>
<path d="M423.8 406L511 406" stroke-width="1.3"/>
<path d="M418.4 436L423.8 436" stroke-width="1.3"/>
<path d="M418.4 419.6L423.8 419.6" stroke-width="1.3"/>
<path d="M418.4 403.2L423.8 403.2" stroke-width="1.3"/>
<path d="M418.4 386.8L423.8 386.8" stroke-width="1.3"/>
<path d="M418.4 370.4L423.8 370.4" stroke-width="1.3"/>
<path d="M420.7 431.1L423.8 431.1" stroke-width="1.15"/>
<path d="M420.7 428.2L423.8 428.2" stroke-width="1.15"/>
<path d="M420.7 426.1L423.8 426.1" stroke-width="1.15"/>
<path d="M420.7 424.5L423.8 424.5" stroke-width="1.15"/>
<path d="M420.7 423.2L423.8 423.2" stroke-width="1.15"/>
<path d="M420.7 422.1L423.8 422.1" stroke-width="1.15"/>
<path d="M420.7 421.2L423.8 421.2" stroke-width="1.15"/>
<path d="M420.7 420.4L423.8 420.4" stroke-width="1.15"/>
<path d="M420.7 414.7L423.8 414.7" stroke-width="1.15"/>
<path d="M420.7 411.8L423.8 411.8" stroke-width="1.15"/>
<path d="M420.7 409.7L423.8 409.7" stroke-width="1.15"/>
<path d="M420.7 408.1L423.8 408.1" stroke-width="1.15"/>
<path d="M420.7 406.8L423.8 406.8" stroke-width="1.15"/>
<path d="M420.7 405.7L423.8 405.7" stroke-width="1.15"/>
<path d="M420.7 404.8L423.8 404.8" stroke-width="1.15"/>
<path d="M420.7 404L423.8 404" stroke-width="1.15"/>
<path d="M420.7 398.3L423.8 398.3" stroke-width="1.15"/>
<path d="M420.7 395.4L423.8 395.4" stroke-width="1.15"/>
<path d="M420.7 393.3L423.8 393.3" stroke-width="1.15"/>
<path d="M420.7 391.7L423.8 391.7" stroke-width="1.15"/>
<path d="M420.7 390.4L423.8 390.4" stroke-width="1.15"/>
<path d="M420.7 389.3L423.8 389.3" stroke-width="1.15"/>
<path d="M420.7 388.4L423.8 388.4" stroke-width="1.15"/>
<path d="M420.7 387.6L423.8 387.6" stroke-width="1.15"/>
<path d="M420.7 381.9L423.8 381.9" stroke-width="1.15"/>
<path d="M420.7 379L423.8 379" stroke-width="1.15"/>
<path d="M420.7 376.9L423.8 376.9" stroke-width="1.15"/>
<path d="M420.7 375.3L423.8 375.3" stroke-width="1.15"/>
<path d="M420.7 374L423.8 374" stroke-width="1.15"/>
<path d="M420.7 372.9L423.8 372.9" stroke-width="1.15"/>
<path d="M420.7 372L423.8 372" stroke-width="1.15"/>
<path d="M420.7 371.2L423.8 371.2" stroke-width="1.15"/>
<path d="M423.8 436L423.8 440.8" stroke-width="1.3"/>
<path d="M445.6 436L445.6 440.8" stroke-width="1.3"/>
<path d="M467.4 436L467.4 440.8" stroke-width="1.3"/>
<path d="M489.2 436L489.2 440.8" stroke-width="1.3"/>
<path d="M511 436L511 440.8" stroke-width="1.3"/>
<path d="M430.4 436L430.4 438.7" stroke-width="1.15"/>
<path d="M434.2 436L434.2 438.7" stroke-width="1.15"/>
<path d="M436.9 436L436.9 438.7" stroke-width="1.15"/>
<path d="M439 436L439 438.7" stroke-width="1.15"/>
<path d="M440.8 436L440.8 438.7" stroke-width="1.15"/>
<path d="M442.2 436L442.2 438.7" stroke-width="1.15"/>
<path d="M443.5 436L443.5 438.7" stroke-width="1.15"/>
<path d="M444.6 436L444.6 438.7" stroke-width="1.15"/>
<path d="M452.2 436L452.2 438.7" stroke-width="1.15"/>
<path d="M456 436L456 438.7" stroke-width="1.15"/>
<path d="M458.7 436L458.7 438.7" stroke-width="1.15"/>
<path d="M460.8 436L460.8 438.7" stroke-width="1.15"/>
<path d="M462.6 436L462.6 438.7" stroke-width="1.15"/>
<path d="M464 436L464 438.7" stroke-width="1.15"/>
<path d="M465.3 436L465.3 438.7" stroke-width="1.15"/>
<path d="M466.4 436L466.4 438.7" stroke-width="1.15"/>
<path d="M474 436L474 438.7" stroke-width="1.15"/>
<path d="M477.8 436L477.8 438.7" stroke-width="1.15"/>
<path d="M480.5 436L480.5 438.7" stroke-width="1.15"/>
<path d="M482.6 436L482.6 438.7" stroke-width="1.15"/>
<path d="M484.4 436L484.4 438.7" stroke-width="1.15"/>
<path d="M485.8 436L485.8 438.7" stroke-width="1.15"/>
<path d="M487.1 436L487.1 438.7" stroke-width="1.15"/>
<path d="M488.2 436L488.2 438.7" stroke-width="1.15"/>
<path d="M495.8 436L495.8 438.7" stroke-width="1.15"/>
<path d="M499.6 436L499.6 438.7" stroke-width="1.15"/>
<path d="M502.3 436L502.3 438.7" stroke-width="1.15"/>
<path d="M504.4 436L504.4 438.7" stroke-width="1.15"/>
<path d="M506.2 436L506.2 438.7" stroke-width="1.15"/>
<path d="M507.6 436L507.6 438.7" stroke-width="1.15"/>
<path d="M508.9 436L508.9 438.7" stroke-width="1.15"/>
<path d="M510 436L510 438.7" stroke-width="1.15"/>
<text class="n b" font-size="10.6" transform="translate(417.7 453.3) rotate(0) scale(0.85 1)">10<tspan dy="-5.8" dx="0.3">0</tspan></text>
<text class="n b" font-size="10.6" transform="translate(502.6 453.3) rotate(0) scale(0.85 1)">10<tspan dy="-5.8" dx="0.3">4</tspan></text>
<text class="n b" font-size="10.6" transform="translate(414.3 444.2) rotate(-90) scale(0.9 1)">10<tspan dy="-5.8" dx="2.0">0</tspan></text>
<text class="n b" font-size="10.6" transform="translate(414.3 378.6) rotate(-90) scale(0.9 1)">10<tspan dy="-5.8" dx="2.0">4</tspan></text>
<text class="s" x="395.2" y="440.9" font-size="12" transform="rotate(-90 395.2 440.9)" textLength="77.4" lengthAdjust="spacingAndGlyphs">CD138 PECY5</text>
<text class="s" x="442.7" y="461" font-size="12" textLength="47.8" lengthAdjust="spacingAndGlyphs">CD19 PE</text>
<path class="d" d="M455.5 380.5h0m6 0h0m7 0h0m-4 1h2m-13 1h0m3 0h1m2 0h1m4 0h0m2 0h0m-10 1h0m2 0h3m3 0h2m2 0h0m2 0h0m-13 1h1m2 0h5m4 0h0m-19 1h0m2 0h0m2 0h2m2 0h4m2 0h0m3 0h0m2 0h0m-12 1h12m2 0h0m2 0h0m-18 1h2m2 0h10m3 0h0m5 0h0m-26 1h3m2 0h0m2 0h14m3 0h0m-21 1h14m7 0h0m4 0h0m-24 1h13m4 0h1m-21 1h0m2 0h15m2 0h1m3 0h0m-22 1h3m2 0h11m2 0h0m2 0h0m21 0h0m-44 1h0m3 0h16m2 0h0m2 0h1m-33 1h2m5 0h1m2 0h0m3 0h20m-24 1h1m2 0h18m2 0h0m2 0h0m2 0h0m17 0h0m-50 1h0m8 0h18m-21 1h0m4 0h0m3 0h11m2 0h1m4 0h0m2 0h0m-28 1h0m3 0h0m2 0h16m5 0h0m-33 1h0m8 0h0m2 0h0m3 0h14m2 0h1m3 0h1m-24 1h1m2 0h1m2 0h15m-29 1h0m3 0h0m4 0h0m2 0h0m3 0h14m-17 1h0m2 0h0m2 0h15m3 0h0m5 0h0m-35 1h0m9 0h17m5 0h0m4 0h0m-31 1h0m3 0h0m3 0h2m2 0h8m2 0h0m7 0h0m-19 1h2m2 0h0m2 0h0m2 0h1m3 0h0m5 0h0" stroke-width="1.5"/>
<rect x="263.3" y="489.3" width="86.9" height="66.3" stroke-width="1.3"/>
<path d="M289.3 489.3L289.3 555.6" stroke-width="1.3"/>
<path d="M263.3 525.5L350.2 525.5" stroke-width="1.3"/>
<path d="M257.9 555.6L263.3 555.6" stroke-width="1.3"/>
<path d="M257.9 539L263.3 539" stroke-width="1.3"/>
<path d="M257.9 522.5L263.3 522.5" stroke-width="1.3"/>
<path d="M257.9 505.9L263.3 505.9" stroke-width="1.3"/>
<path d="M257.9 489.3L263.3 489.3" stroke-width="1.3"/>
<path d="M260.2 550.6L263.3 550.6" stroke-width="1.15"/>
<path d="M260.2 547.7L263.3 547.7" stroke-width="1.15"/>
<path d="M260.2 545.6L263.3 545.6" stroke-width="1.15"/>
<path d="M260.2 544L263.3 544" stroke-width="1.15"/>
<path d="M260.2 542.7L263.3 542.7" stroke-width="1.15"/>
<path d="M260.2 541.6L263.3 541.6" stroke-width="1.15"/>
<path d="M260.2 540.6L263.3 540.6" stroke-width="1.15"/>
<path d="M260.2 539.8L263.3 539.8" stroke-width="1.15"/>
<path d="M260.2 534L263.3 534" stroke-width="1.15"/>
<path d="M260.2 531.1L263.3 531.1" stroke-width="1.15"/>
<path d="M260.2 529L263.3 529" stroke-width="1.15"/>
<path d="M260.2 527.4L263.3 527.4" stroke-width="1.15"/>
<path d="M260.2 526.1L263.3 526.1" stroke-width="1.15"/>
<path d="M260.2 525L263.3 525" stroke-width="1.15"/>
<path d="M260.2 524.1L263.3 524.1" stroke-width="1.15"/>
<path d="M260.2 523.2L263.3 523.2" stroke-width="1.15"/>
<path d="M260.2 517.5L263.3 517.5" stroke-width="1.15"/>
<path d="M260.2 514.5L263.3 514.5" stroke-width="1.15"/>
<path d="M260.2 512.5L263.3 512.5" stroke-width="1.15"/>
<path d="M260.2 510.9L263.3 510.9" stroke-width="1.15"/>
<path d="M260.2 509.6L263.3 509.6" stroke-width="1.15"/>
<path d="M260.2 508.4L263.3 508.4" stroke-width="1.15"/>
<path d="M260.2 507.5L263.3 507.5" stroke-width="1.15"/>
<path d="M260.2 506.6L263.3 506.6" stroke-width="1.15"/>
<path d="M260.2 500.9L263.3 500.9" stroke-width="1.15"/>
<path d="M260.2 498L263.3 498" stroke-width="1.15"/>
<path d="M260.2 495.9L263.3 495.9" stroke-width="1.15"/>
<path d="M260.2 494.3L263.3 494.3" stroke-width="1.15"/>
<path d="M260.2 493L263.3 493" stroke-width="1.15"/>
<path d="M260.2 491.9L263.3 491.9" stroke-width="1.15"/>
<path d="M260.2 490.9L263.3 490.9" stroke-width="1.15"/>
<path d="M260.2 490.1L263.3 490.1" stroke-width="1.15"/>
<path d="M263.3 555.6L263.3 560.4" stroke-width="1.3"/>
<path d="M285 555.6L285 560.4" stroke-width="1.3"/>
<path d="M306.8 555.6L306.8 560.4" stroke-width="1.3"/>
<path d="M328.5 555.6L328.5 560.4" stroke-width="1.3"/>
<path d="M350.2 555.6L350.2 560.4" stroke-width="1.3"/>
<path d="M269.8 555.6L269.8 558.3" stroke-width="1.15"/>
<path d="M273.7 555.6L273.7 558.3" stroke-width="1.15"/>
<path d="M276.4 555.6L276.4 558.3" stroke-width="1.15"/>
<path d="M278.5 555.6L278.5 558.3" stroke-width="1.15"/>
<path d="M280.2 555.6L280.2 558.3" stroke-width="1.15"/>
<path d="M281.7 555.6L281.7 558.3" stroke-width="1.15"/>
<path d="M282.9 555.6L282.9 558.3" stroke-width="1.15"/>
<path d="M284 555.6L284 558.3" stroke-width="1.15"/>
<path d="M291.6 555.6L291.6 558.3" stroke-width="1.15"/>
<path d="M295.4 555.6L295.4 558.3" stroke-width="1.15"/>
<path d="M298.1 555.6L298.1 558.3" stroke-width="1.15"/>
<path d="M300.2 555.6L300.2 558.3" stroke-width="1.15"/>
<path d="M301.9 555.6L301.9 558.3" stroke-width="1.15"/>
<path d="M303.4 555.6L303.4 558.3" stroke-width="1.15"/>
<path d="M304.6 555.6L304.6 558.3" stroke-width="1.15"/>
<path d="M305.8 555.6L305.8 558.3" stroke-width="1.15"/>
<path d="M313.3 555.6L313.3 558.3" stroke-width="1.15"/>
<path d="M317.1 555.6L317.1 558.3" stroke-width="1.15"/>
<path d="M319.8 555.6L319.8 558.3" stroke-width="1.15"/>
<path d="M321.9 555.6L321.9 558.3" stroke-width="1.15"/>
<path d="M323.7 555.6L323.7 558.3" stroke-width="1.15"/>
<path d="M325.1 555.6L325.1 558.3" stroke-width="1.15"/>
<path d="M326.4 555.6L326.4 558.3" stroke-width="1.15"/>
<path d="M327.5 555.6L327.5 558.3" stroke-width="1.15"/>
<path d="M335 555.6L335 558.3" stroke-width="1.15"/>
<path d="M338.8 555.6L338.8 558.3" stroke-width="1.15"/>
<path d="M341.6 555.6L341.6 558.3" stroke-width="1.15"/>
<path d="M343.7 555.6L343.7 558.3" stroke-width="1.15"/>
<path d="M345.4 555.6L345.4 558.3" stroke-width="1.15"/>
<path d="M346.8 555.6L346.8 558.3" stroke-width="1.15"/>
<path d="M348.1 555.6L348.1 558.3" stroke-width="1.15"/>
<path d="M349.2 555.6L349.2 558.3" stroke-width="1.15"/>
<text class="n b" font-size="10.6" transform="translate(255.7 572.9) rotate(0) scale(0.85 1)">10<tspan dy="-5.8" dx="0.3">0</tspan></text>
<text class="n b" font-size="10.6" transform="translate(340.4 572.9) rotate(0) scale(0.85 1)">10<tspan dy="-5.8" dx="0.3">4</tspan></text>
<text class="n b" font-size="10.6" transform="translate(253.8 563.8) rotate(-90) scale(0.9 1)">10<tspan dy="-5.8" dx="2.0">0</tspan></text>
<text class="n b" font-size="10.6" transform="translate(253.8 497.5) rotate(-90) scale(0.9 1)">10<tspan dy="-5.8" dx="2.0">4</tspan></text>
<text class="s" x="235.5" y="559.2" font-size="12" transform="rotate(-90 235.5 559.2)" textLength="77.4" lengthAdjust="spacingAndGlyphs">CD138 PECY5</text>
<text class="s" x="282.3" y="579.8" font-size="12" textLength="48.5" lengthAdjust="spacingAndGlyphs">CD56 PE</text>
<path class="d" d="M275.5 500.5h0m4 0h0m-7 1h3m3 0h0m2 0h0m2 0h0m2 0h1m-18 1h4m3 0h1m2 0h0m-9 1h0m2 0h1m6 0h0m3 0h2m8 0h0m-25 1h3m2 0h1m2 0h2m4 0h0m4 0h0m3 0h0m-22 1h0m7 0h0m2 0h8m2 0h2m-20 1h0m2 0h0m2 0h16m2 0h0m3 0h0m10 0h0m-34 1h2m3 0h2m2 0h9m3 0h1m-23 1h4m2 0h11m2 0h0m2 0h2m2 0h0m-25 1h0m2 0h19m2 0h0m-23 1h18m2 0h3m2 0h0m-24 1h15m2 0h4m5 0h0m-28 1h24m2 0h0m6 0h0m-31 1h24m2 0h0m-26 1h24m3 0h0m-27 1h24m7 0h0m2 0h0m-34 1h25m7 0h0m-31 1h26m5 0h0m-31 1h0m2 0h23m2 0h0m-27 1h1m2 0h22m-26 1h22m2 0h3m-26 1h23m3 0h0m-27 1h23m2 0h1m6 0h0m-29 1h20m2 0h0m-24 1h13m2 0h8m2 0h0" stroke-width="1.5"/>
<rect x="423.7" y="488.3" width="87.3" height="66.4" stroke-width="1.3"/>
<path d="M453.5 488.3L453.5 554.7" stroke-width="1.3"/>
<path d="M423.7 524L511 524" stroke-width="1.3"/>
<path d="M418.3 554.7L423.7 554.7" stroke-width="1.3"/>
<path d="M418.3 538.1L423.7 538.1" stroke-width="1.3"/>
<path d="M418.3 521.5L423.7 521.5" stroke-width="1.3"/>
<path d="M418.3 504.9L423.7 504.9" stroke-width="1.3"/>
<path d="M418.3 488.3L423.7 488.3" stroke-width="1.3"/>
<path d="M420.6 549.7L423.7 549.7" stroke-width="1.15"/>
<path d="M420.6 546.8L423.7 546.8" stroke-width="1.15"/>
<path d="M420.6 544.7L423.7 544.7" stroke-width="1.15"/>
<path d="M420.6 543.1L423.7 543.1" stroke-width="1.15"/>
<path d="M420.6 541.8L423.7 541.8" stroke-width="1.15"/>
<path d="M420.6 540.7L423.7 540.7" stroke-width="1.15"/>
<path d="M420.6 539.7L423.7 539.7" stroke-width="1.15"/>
<path d="M420.6 538.9L423.7 538.9" stroke-width="1.15"/>
<path d="M420.6 533.1L423.7 533.1" stroke-width="1.15"/>
<path d="M420.6 530.2L423.7 530.2" stroke-width="1.15"/>
<path d="M420.6 528.1L423.7 528.1" stroke-width="1.15"/>
<path d="M420.6 526.5L423.7 526.5" stroke-width="1.15"/>
<path d="M420.6 525.2L423.7 525.2" stroke-width="1.15"/>
<path d="M420.6 524.1L423.7 524.1" stroke-width="1.15"/>
<path d="M420.6 523.1L423.7 523.1" stroke-width="1.15"/>
<path d="M420.6 522.3L423.7 522.3" stroke-width="1.15"/>
<path d="M420.6 516.5L423.7 516.5" stroke-width="1.15"/>
<path d="M420.6 513.6L423.7 513.6" stroke-width="1.15"/>
<path d="M420.6 511.5L423.7 511.5" stroke-width="1.15"/>
<path d="M420.6 509.9L423.7 509.9" stroke-width="1.15"/>
<path d="M420.6 508.6L423.7 508.6" stroke-width="1.15"/>
<path d="M420.6 507.5L423.7 507.5" stroke-width="1.15"/>
<path d="M420.6 506.5L423.7 506.5" stroke-width="1.15"/>
<path d="M420.6 505.7L423.7 505.7" stroke-width="1.15"/>
<path d="M420.6 499.9L423.7 499.9" stroke-width="1.15"/>
<path d="M420.6 497L423.7 497" stroke-width="1.15"/>
<path d="M420.6 494.9L423.7 494.9" stroke-width="1.15"/>
<path d="M420.6 493.3L423.7 493.3" stroke-width="1.15"/>
<path d="M420.6 492L423.7 492" stroke-width="1.15"/>
<path d="M420.6 490.9L423.7 490.9" stroke-width="1.15"/>
<path d="M420.6 489.9L423.7 489.9" stroke-width="1.15"/>
<path d="M420.6 489.1L423.7 489.1" stroke-width="1.15"/>
<path d="M423.7 554.7L423.7 559.5" stroke-width="1.3"/>
<path d="M445.5 554.7L445.5 559.5" stroke-width="1.3"/>
<path d="M467.4 554.7L467.4 559.5" stroke-width="1.3"/>
<path d="M489.2 554.7L489.2 559.5" stroke-width="1.3"/>
<path d="M511 554.7L511 559.5" stroke-width="1.3"/>
<path d="M430.3 554.7L430.3 557.4" stroke-width="1.15"/>
<path d="M434.1 554.7L434.1 557.4" stroke-width="1.15"/>
<path d="M436.8 554.7L436.8 557.4" stroke-width="1.15"/>
<path d="M439 554.7L439 557.4" stroke-width="1.15"/>
<path d="M440.7 554.7L440.7 557.4" stroke-width="1.15"/>
<path d="M442.1 554.7L442.1 557.4" stroke-width="1.15"/>
<path d="M443.4 554.7L443.4 557.4" stroke-width="1.15"/>
<path d="M444.5 554.7L444.5 557.4" stroke-width="1.15"/>
<path d="M452.1 554.7L452.1 557.4" stroke-width="1.15"/>
<path d="M455.9 554.7L455.9 557.4" stroke-width="1.15"/>
<path d="M458.7 554.7L458.7 557.4" stroke-width="1.15"/>
<path d="M460.8 554.7L460.8 557.4" stroke-width="1.15"/>
<path d="M462.5 554.7L462.5 557.4" stroke-width="1.15"/>
<path d="M464 554.7L464 557.4" stroke-width="1.15"/>
<path d="M465.2 554.7L465.2 557.4" stroke-width="1.15"/>
<path d="M466.4 554.7L466.4 557.4" stroke-width="1.15"/>
<path d="M473.9 554.7L473.9 557.4" stroke-width="1.15"/>
<path d="M477.8 554.7L477.8 557.4" stroke-width="1.15"/>
<path d="M480.5 554.7L480.5 557.4" stroke-width="1.15"/>
<path d="M482.6 554.7L482.6 557.4" stroke-width="1.15"/>
<path d="M484.3 554.7L484.3 557.4" stroke-width="1.15"/>
<path d="M485.8 554.7L485.8 557.4" stroke-width="1.15"/>
<path d="M487.1 554.7L487.1 557.4" stroke-width="1.15"/>
<path d="M488.2 554.7L488.2 557.4" stroke-width="1.15"/>
<path d="M495.7 554.7L495.7 557.4" stroke-width="1.15"/>
<path d="M499.6 554.7L499.6 557.4" stroke-width="1.15"/>
<path d="M502.3 554.7L502.3 557.4" stroke-width="1.15"/>
<path d="M504.4 554.7L504.4 557.4" stroke-width="1.15"/>
<path d="M506.2 554.7L506.2 557.4" stroke-width="1.15"/>
<path d="M507.6 554.7L507.6 557.4" stroke-width="1.15"/>
<path d="M508.9 554.7L508.9 557.4" stroke-width="1.15"/>
<path d="M510 554.7L510 557.4" stroke-width="1.15"/>
<text class="n b" font-size="10.6" transform="translate(417.7 572) rotate(0) scale(0.85 1)">10<tspan dy="-5.8" dx="0.3">0</tspan></text>
<text class="n b" font-size="10.6" transform="translate(502.6 572) rotate(0) scale(0.85 1)">10<tspan dy="-5.8" dx="0.3">4</tspan></text>
<text class="n b" font-size="10.6" transform="translate(414.2 562.9) rotate(-90) scale(0.9 1)">10<tspan dy="-5.8" dx="2.0">0</tspan></text>
<text class="n b" font-size="10.6" transform="translate(414.2 496.5) rotate(-90) scale(0.9 1)">10<tspan dy="-5.8" dx="2.0">4</tspan></text>
<text class="s" x="394.3" y="557.4" font-size="12" transform="rotate(-90 394.3 557.4)" textLength="76.7" lengthAdjust="spacingAndGlyphs">CD138 PECY5</text>
<text class="s" x="443.4" y="578" font-size="12" textLength="47.8" lengthAdjust="spacingAndGlyphs">CD28 PE</text>
<path class="d" d="M438.5 497.5h0m24 0h0m-25 1h0m4 0h0m22 0h0m-24 1h1m23 0h0m-29 1h0m4 0h0m4 0h0m5 0h0m2 0h0m12 0h0m-30 1h0m4 0h1m3 0h1m4 0h0m4 0h0m14 0h0m6 0h0m-36 1h1m2 0h0m3 0h2m3 0h1m2 0h1m4 0h0m10 0h0m-35 1h0m4 0h1m2 0h0m4 0h1m3 0h2m2 0h0m3 0h0m2 0h0m7 0h0m8 0h0m-39 1h0m4 0h1m3 0h1m3 0h0m2 0h3m3 0h0m10 0h0m8 0h0m6 0h0m-43 1h0m3 0h0m4 0h3m2 0h8m2 0h1m5 0h0m2 0h1m5 0h0m2 0h0m2 0h0m3 0h2m-43 1h1m3 0h15m2 0h0m13 0h0m6 0h1m-42 1h2m2 0h13m2 0h0m2 0h1m9 0h1m2 0h0m5 0h0m9 0h0m-49 1h0m2 0h22m7 0h1m6 0h3m2 0h0m7 0h0m-50 1h0m2 0h21m7 0h0m3 0h1m4 0h0m7 0h1m18 0h0m-66 1h0m3 0h20m2 0h1m2 0h2m3 0h1m4 0h1m4 0h0m3 0h0m-42 1h21m5 0h0m3 0h0m2 0h0m3 0h0m2 0h0m2 0h0m3 0h0m5 0h0m5 0h0m-55 1h2m2 0h24m4 0h0m3 0h0m2 0h3m3 0h0m2 0h0m3 0h1m5 0h0m-52 1h24m3 0h0m3 0h0m5 0h2m4 0h0m-42 1h2m2 0h22m3 0h0m4 0h1m4 0h0m4 0h0m-40 1h21m2 0h1m2 0h0m4 0h0m3 0h1m2 0h0m2 0h1m3 0h1m3 0h0m2 0h0m-52 1h0m2 0h0m4 0h21m2 0h0m9 0h1m4 0h0m4 0h0m-45 1h7m2 0h17m3 0h0m6 0h0m4 0h0m2 0h0m3 0h0m7 0h0m-52 1h3m3 0h19m2 0h2m4 0h0m5 0h0m7 0h0m-42 1h1m3 0h12m2 0h5m8 0h0m8 0h1m-42 1h0m2 0h0m2 0h0m2 0h17m2 0h0m12 0h0m5 0h0m-35 1h3m2 0h2m2 0h2m2 0h3m2 0h0m5 0h0m5 0h0m3 0h0m9 0h0m-41 1h0m2 0h0m2 0h0m2 0h10m2 0h0m14 0h0m-32 1h1m6 0h1m5 0h0m7 0h0m5 0h0m8 0h0" stroke-width="1.5"/>
<rect x="48" y="680.8" width="124" height="92.5" stroke-width="1.3"/>
<path d="M42 773.3L48 773.3" stroke-width="1.4"/>
<path d="M42 750.2L48 750.2" stroke-width="1.4"/>
<path d="M42 727L48 727" stroke-width="1.4"/>
<path d="M42 703.9L48 703.9" stroke-width="1.4"/>
<path d="M42 680.8L48 680.8" stroke-width="1.4"/>
<path d="M44.4 766.3L48 766.3" stroke-width="1.1"/>
<path d="M44.4 762.3L48 762.3" stroke-width="1.1"/>
<path d="M44.4 759.4L48 759.4" stroke-width="1.1"/>
<path d="M44.4 757.1L48 757.1" stroke-width="1.1"/>
<path d="M44.4 755.3L48 755.3" stroke-width="1.1"/>
<path d="M44.4 753.8L48 753.8" stroke-width="1.1"/>
<path d="M44.4 752.4L48 752.4" stroke-width="1.1"/>
<path d="M44.4 751.2L48 751.2" stroke-width="1.1"/>
<path d="M44.4 743.2L48 743.2" stroke-width="1.1"/>
<path d="M44.4 739.1L48 739.1" stroke-width="1.1"/>
<path d="M44.4 736.3L48 736.3" stroke-width="1.1"/>
<path d="M44.4 734L48 734" stroke-width="1.1"/>
<path d="M44.4 732.2L48 732.2" stroke-width="1.1"/>
<path d="M44.4 730.6L48 730.6" stroke-width="1.1"/>
<path d="M44.4 729.3L48 729.3" stroke-width="1.1"/>
<path d="M44.4 728.1L48 728.1" stroke-width="1.1"/>
<path d="M44.4 720.1L48 720.1" stroke-width="1.1"/>
<path d="M44.4 716L48 716" stroke-width="1.1"/>
<path d="M44.4 713.1L48 713.1" stroke-width="1.1"/>
<path d="M44.4 710.9L48 710.9" stroke-width="1.1"/>
<path d="M44.4 709.1L48 709.1" stroke-width="1.1"/>
<path d="M44.4 707.5L48 707.5" stroke-width="1.1"/>
<path d="M44.4 706.2L48 706.2" stroke-width="1.1"/>
<path d="M44.4 705L48 705" stroke-width="1.1"/>
<path d="M44.4 697L48 697" stroke-width="1.1"/>
<path d="M44.4 692.9L48 692.9" stroke-width="1.1"/>
<path d="M44.4 690L48 690" stroke-width="1.1"/>
<path d="M44.4 687.8L48 687.8" stroke-width="1.1"/>
<path d="M44.4 685.9L48 685.9" stroke-width="1.1"/>
<path d="M44.4 684.4L48 684.4" stroke-width="1.1"/>
<path d="M44.4 683L48 683" stroke-width="1.1"/>
<path d="M44.4 681.9L48 681.9" stroke-width="1.1"/>
<text class="n b" font-size="10.6" transform="translate(37.4 780.8) rotate(-90) scale(0.9 1)">10<tspan dy="-5.8" dx="2.0">0</tspan></text>
<text class="n b" font-size="10.6" transform="translate(37.4 757.7) rotate(-90) scale(0.9 1)">10<tspan dy="-5.8" dx="2.0">1</tspan></text>
<text class="n b" font-size="10.6" transform="translate(37.4 734.5) rotate(-90) scale(0.9 1)">10<tspan dy="-5.8" dx="2.0">2</tspan></text>
<text class="n b" font-size="10.6" transform="translate(37.4 711.4) rotate(-90) scale(0.9 1)">10<tspan dy="-5.8" dx="2.0">3</tspan></text>
<text class="n b" font-size="10.6" transform="translate(37.4 688.3) rotate(-90) scale(0.9 1)">10<tspan dy="-5.8" dx="2.0">4</tspan></text>
<path d="M48 773.3L48 778.8" stroke-width="1.3"/>
<path d="M79 773.3L79 778.8" stroke-width="1.3"/>
<path d="M110 773.3L110 778.8" stroke-width="1.3"/>
<path d="M141 773.3L141 778.8" stroke-width="1.3"/>
<path d="M172 773.3L172 778.8" stroke-width="1.3"/>
<path d="M57.3 773.3L57.3 776.5" stroke-width="1.0"/>
<path d="M62.8 773.3L62.8 776.5" stroke-width="1.0"/>
<path d="M66.7 773.3L66.7 776.5" stroke-width="1.0"/>
<path d="M69.7 773.3L69.7 776.5" stroke-width="1.0"/>
<path d="M72.1 773.3L72.1 776.5" stroke-width="1.0"/>
<path d="M74.2 773.3L74.2 776.5" stroke-width="1.0"/>
<path d="M76 773.3L76 776.5" stroke-width="1.0"/>
<path d="M77.6 773.3L77.6 776.5" stroke-width="1.0"/>
<path d="M88.3 773.3L88.3 776.5" stroke-width="1.0"/>
<path d="M93.8 773.3L93.8 776.5" stroke-width="1.0"/>
<path d="M97.7 773.3L97.7 776.5" stroke-width="1.0"/>
<path d="M100.7 773.3L100.7 776.5" stroke-width="1.0"/>
<path d="M103.1 773.3L103.1 776.5" stroke-width="1.0"/>
<path d="M105.2 773.3L105.2 776.5" stroke-width="1.0"/>
<path d="M107 773.3L107 776.5" stroke-width="1.0"/>
<path d="M108.6 773.3L108.6 776.5" stroke-width="1.0"/>
<path d="M119.3 773.3L119.3 776.5" stroke-width="1.0"/>
<path d="M124.8 773.3L124.8 776.5" stroke-width="1.0"/>
<path d="M128.7 773.3L128.7 776.5" stroke-width="1.0"/>
<path d="M131.7 773.3L131.7 776.5" stroke-width="1.0"/>
<path d="M134.1 773.3L134.1 776.5" stroke-width="1.0"/>
<path d="M136.2 773.3L136.2 776.5" stroke-width="1.0"/>
<path d="M138 773.3L138 776.5" stroke-width="1.0"/>
<path d="M139.6 773.3L139.6 776.5" stroke-width="1.0"/>
<path d="M150.3 773.3L150.3 776.5" stroke-width="1.0"/>
<path d="M155.8 773.3L155.8 776.5" stroke-width="1.0"/>
<path d="M159.7 773.3L159.7 776.5" stroke-width="1.0"/>
<path d="M162.7 773.3L162.7 776.5" stroke-width="1.0"/>
<path d="M165.1 773.3L165.1 776.5" stroke-width="1.0"/>
<path d="M167.2 773.3L167.2 776.5" stroke-width="1.0"/>
<path d="M169 773.3L169 776.5" stroke-width="1.0"/>
<path d="M170.6 773.3L170.6 776.5" stroke-width="1.0"/>
<text class="n b" font-size="10.6" transform="translate(40.7 792) rotate(0) scale(0.85 1)">10<tspan dy="-5.8" dx="0.3">0</tspan></text>
<text class="n b" font-size="10.6" transform="translate(71.7 792) rotate(0) scale(0.85 1)">10<tspan dy="-5.8" dx="0.3">1</tspan></text>
<text class="n b" font-size="10.6" transform="translate(102.7 792) rotate(0) scale(0.85 1)">10<tspan dy="-5.8" dx="0.3">2</tspan></text>
<text class="n b" font-size="10.6" transform="translate(133.7 792) rotate(0) scale(0.85 1)">10<tspan dy="-5.8" dx="0.3">3</tspan></text>
<text class="n b" font-size="10.6" transform="translate(164.7 792) rotate(0) scale(0.85 1)">10<tspan dy="-5.8" dx="0.3">4</tspan></text>
<path class="d" d="M90.5 690.5h0m4 0h0m-12 2h0m11 0h0m-5 1h0m2 1h2m5 0h0m-8 1h0m5 0h0m-6 1h0m4 0h2m-6 1h0m3 1h0m2 0h1m-4 1h0m2 0h0m0 1h0m5 0h0m5 0h0m-11 1h0m3 0h2m4 0h0m-8 1h0m2 0h1m2 0h0m-5 1h1m8 0h0m-15 1h0m4 0h2m2 0h0m2 0h2m-10 1h0m2 0h2m2 0h0m4 0h0m-12 1h0m3 0h0m2 0h0m4 0h1m3 0h0m-13 1h0m3 0h0m2 0h2m3 0h3m-7 1h1m2 0h1m-4 1h3m2 0h0m-13 1h0m6 0h1m5 0h1m3 0h0m-13 1h0m2 0h2m2 0h1m4 0h0m2 0h0m-12 1h0m6 0h0m2 0h0m7 0h0m-12 1h0m6 0h0m2 0h0m-14 1h0m4 0h2m2 0h3m3 0h0m-9 1h0m5 0h0m3 0h0m3 0h0m-12 1h0m3 0h1m2 0h0m5 0h1m4 0h0m-14 1h0m2 0h0m2 0h2m-10 1h1m2 0h2m3 0h1m2 0h0m-8 1h3m2 0h0m2 0h2m-11 1h0m3 0h0m2 0h1m3 0h2m3 0h0m-13 1h9m2 0h0m2 0h0m-14 1h0m2 0h1m2 0h0m2 0h0m2 0h0m4 0h0m11 0h0m-26 1h1m4 0h0m2 0h0m2 0h1m-7 1h0m2 0h1m2 0h2m42 0h0m-49 1h3m2 0h5m-13 1h0m2 0h0m2 0h0m4 0h1m3 0h0m-9 1h0m4 0h0m2 0h2m2 0h1m-12 1h1m2 0h4m2 0h0m-15 1h0m4 0h5m2 0h1m3 0h0m-7 1h1m2 0h1m2 0h1m-10 1h0m3 0h0m2 0h0m2 0h3m4 0h0m3 0h0m29 0h0m-45 1h0m3 0h2m2 0h0m3 0h0m25 0h0m-36 1h0m2 0h2m2 0h2m2 0h0m3 0h0m19 0h0m8 0h0m-37 1h0m2 0h0m2 0h0m4 0h0m18 0h0m11 0h0m-38 1h0m2 0h1m2 0h1m2 0h0m11 0h0m4 0h0m10 0h0m6 0h0m-42 1h0m3 0h0m4 0h1m2 0h3m12 0h0m8 0h0m-33 1h0m3 0h1m3 0h4m12 0h0m-18 1h1m3 0h0m2 0h1m5 0h0m8 0h1m3 0h0m2 0h1m2 0h1m-32 1h0m3 0h2m2 0h0m5 0h0m5 0h1m10 0h1m5 0h1m-33 1h1m3 0h3m3 0h0m7 0h0m7 0h0m5 0h0m-35 1h1m3 0h0m2 0h0m3 0h0m2 0h2m2 0h0m11 0h3m-33 1h0m7 0h1m3 0h2m2 0h1m3 0h0m10 0h0m5 0h1m4 0h0m-32 1h0m2 0h2m2 0h3m2 0h0m2 0h0m6 0h0m2 0h0m12 0h0m-38 1h2m2 0h10m3 0h1m6 0h1m2 0h0m2 0h0m2 0h1m2 0h0m-33 1h1m3 0h5m2 0h1m2 0h1m2 0h0m2 0h0m3 0h0m-19 1h3m2 0h9m4 0h0m2 0h0m6 0h0m8 0h0m-38 1h0m2 0h0m3 0h0m2 0h7m2 0h0m2 0h1m4 0h0m3 0h0m2 0h0m3 0h0m-25 1h5m2 0h5m6 0h1m-27 1h0m4 0h2m2 0h8m2 0h0m6 0h1m2 0h1m-25 1h15m3 0h1m5 0h1m4 0h0m4 0h0m-38 1h0m5 0h1m2 0h0m2 0h12m5 0h0m-24 1h0m4 0h12m3 0h1m2 0h0m-26 1h0m9 0h14m-14 1h10m2 0h0m3 0h0m2 0h0m5 0h0m-25 1h0m2 0h13m-13 1h0m2 0h13m2 0h0m7 0h0m-23 1h0m2 0h9m2 0h0m2 0h0m-16 1h14m-16 1h1m2 0h12m-14 1h0m2 0h0m2 0h9m2 0h1m-14 1h12m2 0h0m2 0h0m-15 1h12m-13 1h11m2 0h0m-15 1h0m2 0h13m2 0h0m-18 1h0m2 0h11m2 0h0m3 0h0m-17 1h14m-12 1h13m3 0h0m-19 1h0m4 0h14m-16 1h0m2 0h11m-11 1h10m3 0h0m-13 1h9m2 0h1m4 0h0m-13 1h0m2 0h0" stroke-width="1.5"/>
<path d="M75.2 687.5L79.9 681.1L110.2 682.8L104.1 738.2L82.5 740.8L77.3 734.7Z" stroke-width="1.5"/>
<text class="s b" x="54.5" y="698.2" font-size="15.5">D</text>
<text class="n b" x="132.5" y="705" font-size="10" font-weight="bold">R 3</text>
<text class="s" x="17" y="766.2" font-size="12" transform="rotate(-90 17 766.2)" textLength="77.5" lengthAdjust="spacingAndGlyphs">CD138 PECY5</text>
<text class="s" x="74" y="804.6" font-size="12.5" textLength="72.3" lengthAdjust="spacingAndGlyphs">SSC-H  (log)</text>
<rect x="261.5" y="634.3" width="86.7" height="65.8" stroke-width="1.3"/>
<path d="M285 634.3L285 700.1" stroke-width="1.3"/>
<path d="M261.5 674.7L348.2 674.7" stroke-width="1.3"/>
<path d="M256.1 700.1L261.5 700.1" stroke-width="1.3"/>
<path d="M256.1 683.6L261.5 683.6" stroke-width="1.3"/>
<path d="M256.1 667.2L261.5 667.2" stroke-width="1.3"/>
<path d="M256.1 650.8L261.5 650.8" stroke-width="1.3"/>
<path d="M256.1 634.3L261.5 634.3" stroke-width="1.3"/>
<path d="M258.4 695.1L261.5 695.1" stroke-width="1.15"/>
<path d="M258.4 692.3L261.5 692.3" stroke-width="1.15"/>
<path d="M258.4 690.2L261.5 690.2" stroke-width="1.15"/>
<path d="M258.4 688.6L261.5 688.6" stroke-width="1.15"/>
<path d="M258.4 687.3L261.5 687.3" stroke-width="1.15"/>
<path d="M258.4 686.2L261.5 686.2" stroke-width="1.15"/>
<path d="M258.4 685.2L261.5 685.2" stroke-width="1.15"/>
<path d="M258.4 684.4L261.5 684.4" stroke-width="1.15"/>
<path d="M258.4 678.7L261.5 678.7" stroke-width="1.15"/>
<path d="M258.4 675.8L261.5 675.8" stroke-width="1.15"/>
<path d="M258.4 673.7L261.5 673.7" stroke-width="1.15"/>
<path d="M258.4 672.2L261.5 672.2" stroke-width="1.15"/>
<path d="M258.4 670.8L261.5 670.8" stroke-width="1.15"/>
<path d="M258.4 669.7L261.5 669.7" stroke-width="1.15"/>
<path d="M258.4 668.8L261.5 668.8" stroke-width="1.15"/>
<path d="M258.4 668L261.5 668" stroke-width="1.15"/>
<path d="M258.4 662.2L261.5 662.2" stroke-width="1.15"/>
<path d="M258.4 659.4L261.5 659.4" stroke-width="1.15"/>
<path d="M258.4 657.3L261.5 657.3" stroke-width="1.15"/>
<path d="M258.4 655.7L261.5 655.7" stroke-width="1.15"/>
<path d="M258.4 654.4L261.5 654.4" stroke-width="1.15"/>
<path d="M258.4 653.3L261.5 653.3" stroke-width="1.15"/>
<path d="M258.4 652.3L261.5 652.3" stroke-width="1.15"/>
<path d="M258.4 651.5L261.5 651.5" stroke-width="1.15"/>
<path d="M258.4 645.8L261.5 645.8" stroke-width="1.15"/>
<path d="M258.4 642.9L261.5 642.9" stroke-width="1.15"/>
<path d="M258.4 640.8L261.5 640.8" stroke-width="1.15"/>
<path d="M258.4 639.3L261.5 639.3" stroke-width="1.15"/>
<path d="M258.4 637.9L261.5 637.9" stroke-width="1.15"/>
<path d="M258.4 636.8L261.5 636.8" stroke-width="1.15"/>
<path d="M258.4 635.9L261.5 635.9" stroke-width="1.15"/>
<path d="M258.4 635.1L261.5 635.1" stroke-width="1.15"/>
<path d="M261.5 700.1L261.5 704.9" stroke-width="1.3"/>
<path d="M283.2 700.1L283.2 704.9" stroke-width="1.3"/>
<path d="M304.9 700.1L304.9 704.9" stroke-width="1.3"/>
<path d="M326.5 700.1L326.5 704.9" stroke-width="1.3"/>
<path d="M348.2 700.1L348.2 704.9" stroke-width="1.3"/>
<path d="M268 700.1L268 702.8" stroke-width="1.15"/>
<path d="M271.8 700.1L271.8 702.8" stroke-width="1.15"/>
<path d="M274.5 700.1L274.5 702.8" stroke-width="1.15"/>
<path d="M276.7 700.1L276.7 702.8" stroke-width="1.15"/>
<path d="M278.4 700.1L278.4 702.8" stroke-width="1.15"/>
<path d="M279.8 700.1L279.8 702.8" stroke-width="1.15"/>
<path d="M281.1 700.1L281.1 702.8" stroke-width="1.15"/>
<path d="M282.2 700.1L282.2 702.8" stroke-width="1.15"/>
<path d="M289.7 700.1L289.7 702.8" stroke-width="1.15"/>
<path d="M293.5 700.1L293.5 702.8" stroke-width="1.15"/>
<path d="M296.2 700.1L296.2 702.8" stroke-width="1.15"/>
<path d="M298.3 700.1L298.3 702.8" stroke-width="1.15"/>
<path d="M300 700.1L300 702.8" stroke-width="1.15"/>
<path d="M301.5 700.1L301.5 702.8" stroke-width="1.15"/>
<path d="M302.7 700.1L302.7 702.8" stroke-width="1.15"/>
<path d="M303.9 700.1L303.9 702.8" stroke-width="1.15"/>
<path d="M311.4 700.1L311.4 702.8" stroke-width="1.15"/>
<path d="M315.2 700.1L315.2 702.8" stroke-width="1.15"/>
<path d="M317.9 700.1L317.9 702.8" stroke-width="1.15"/>
<path d="M320 700.1L320 702.8" stroke-width="1.15"/>
<path d="M321.7 700.1L321.7 702.8" stroke-width="1.15"/>
<path d="M323.2 700.1L323.2 702.8" stroke-width="1.15"/>
<path d="M324.4 700.1L324.4 702.8" stroke-width="1.15"/>
<path d="M325.5 700.1L325.5 702.8" stroke-width="1.15"/>
<path d="M333 700.1L333 702.8" stroke-width="1.15"/>
<path d="M336.9 700.1L336.9 702.8" stroke-width="1.15"/>
<path d="M339.6 700.1L339.6 702.8" stroke-width="1.15"/>
<path d="M341.7 700.1L341.7 702.8" stroke-width="1.15"/>
<path d="M343.4 700.1L343.4 702.8" stroke-width="1.15"/>
<path d="M344.8 700.1L344.8 702.8" stroke-width="1.15"/>
<path d="M346.1 700.1L346.1 702.8" stroke-width="1.15"/>
<path d="M347.2 700.1L347.2 702.8" stroke-width="1.15"/>
<text class="n b" font-size="10.6" transform="translate(254.2 717.4) rotate(0) scale(0.85 1)">10<tspan dy="-5.8" dx="0.3">0</tspan></text>
<text class="n b" font-size="10.6" transform="translate(339.2 717.4) rotate(0) scale(0.85 1)">10<tspan dy="-5.8" dx="0.3">4</tspan></text>
<text class="n b" font-size="10.6" transform="translate(252 708.3) rotate(-90) scale(0.9 1)">10<tspan dy="-5.8" dx="2.0">0</tspan></text>
<text class="n b" font-size="10.6" transform="translate(252 642.5) rotate(-90) scale(0.9 1)">10<tspan dy="-5.8" dx="2.0">4</tspan></text>
<text class="s" x="234.1" y="703.2" font-size="12" transform="rotate(-90 234.1 703.2)" textLength="77.4" lengthAdjust="spacingAndGlyphs">CD138 PECY5</text>
<text class="s" x="284.2" y="724.2" font-size="12" textLength="42" lengthAdjust="spacingAndGlyphs">IgG1 PE</text>
<path class="d" d="M275.5 640.5h0m4 0h0m-4 1h0m6 0h0m-5 1h0m2 0h1m4 0h0m-10 1h0m3 0h4m3 0h0m-13 1h0m3 0h6m2 0h0m-10 1h0m3 0h0m3 0h5m-12 1h10m2 0h0m-10 1h0m2 0h1m2 0h2m2 0h0m2 0h0m-12 1h9m2 0h1m-21 1h0m4 0h0m3 0h11m2 0h0m-17 1h0m2 0h0m2 0h1m2 0h10m-14 1h1m2 0h12m5 0h0m-23 1h1m2 0h14m2 0h0m28 0h0m-49 1h0m4 0h0m3 0h9m4 0h0m-20 1h19m-18 1h19m-19 1h16m-17 1h15m2 0h1m-19 1h0m2 0h16m8 0h0m44 0h0m-70 1h17m5 0h0m33 0h0m20 0h0m-74 1h16m-16 1h14m2 0h1m3 0h0m-21 1h17m2 0h0m-19 1h0m2 0h16m2 0h0m-20 1h16m2 0h0m3 0h0m4 0h0m8 0h0m-33 1h19m2 0h0m-21 1h21m43 0h0m-64 1h21m28 0h0m-49 1h0m2 0h16m2 0h0m9 0h0m-28 1h17m2 0h1m6 0h0m15 0h0m-42 1h20m-20 1h19m-19 1h1m2 0h15m8 0h0m-26 1h1m2 0h8m2 0h3m2 0h1m-17 1h0m2 0h0m8 0h1m2 0h0m4 0h0" stroke-width="1.5"/>
<rect x="420.7" y="634.5" width="86.9" height="66.2" stroke-width="1.3"/>
<path d="M441.9 634.5L441.9 700.7" stroke-width="1.3"/>
<path d="M420.7 676.5L507.6 676.5" stroke-width="1.3"/>
<path d="M415.3 700.7L420.7 700.7" stroke-width="1.3"/>
<path d="M415.3 684.2L420.7 684.2" stroke-width="1.3"/>
<path d="M415.3 667.6L420.7 667.6" stroke-width="1.3"/>
<path d="M415.3 651L420.7 651" stroke-width="1.3"/>
<path d="M415.3 634.5L420.7 634.5" stroke-width="1.3"/>
<path d="M417.6 695.7L420.7 695.7" stroke-width="1.15"/>
<path d="M417.6 692.8L420.7 692.8" stroke-width="1.15"/>
<path d="M417.6 690.7L420.7 690.7" stroke-width="1.15"/>
<path d="M417.6 689.1L420.7 689.1" stroke-width="1.15"/>
<path d="M417.6 687.8L420.7 687.8" stroke-width="1.15"/>
<path d="M417.6 686.7L420.7 686.7" stroke-width="1.15"/>
<path d="M417.6 685.8L420.7 685.8" stroke-width="1.15"/>
<path d="M417.6 684.9L420.7 684.9" stroke-width="1.15"/>
<path d="M417.6 679.2L420.7 679.2" stroke-width="1.15"/>
<path d="M417.6 676.3L420.7 676.3" stroke-width="1.15"/>
<path d="M417.6 674.2L420.7 674.2" stroke-width="1.15"/>
<path d="M417.6 672.6L420.7 672.6" stroke-width="1.15"/>
<path d="M417.6 671.3L420.7 671.3" stroke-width="1.15"/>
<path d="M417.6 670.2L420.7 670.2" stroke-width="1.15"/>
<path d="M417.6 669.2L420.7 669.2" stroke-width="1.15"/>
<path d="M417.6 668.4L420.7 668.4" stroke-width="1.15"/>
<path d="M417.6 662.6L420.7 662.6" stroke-width="1.15"/>
<path d="M417.6 659.7L420.7 659.7" stroke-width="1.15"/>
<path d="M417.6 657.6L420.7 657.6" stroke-width="1.15"/>
<path d="M417.6 656L420.7 656" stroke-width="1.15"/>
<path d="M417.6 654.7L420.7 654.7" stroke-width="1.15"/>
<path d="M417.6 653.6L420.7 653.6" stroke-width="1.15"/>
<path d="M417.6 652.7L420.7 652.7" stroke-width="1.15"/>
<path d="M417.6 651.8L420.7 651.8" stroke-width="1.15"/>
<path d="M417.6 646.1L420.7 646.1" stroke-width="1.15"/>
<path d="M417.6 643.2L420.7 643.2" stroke-width="1.15"/>
<path d="M417.6 641.1L420.7 641.1" stroke-width="1.15"/>
<path d="M417.6 639.5L420.7 639.5" stroke-width="1.15"/>
<path d="M417.6 638.2L420.7 638.2" stroke-width="1.15"/>
<path d="M417.6 637.1L420.7 637.1" stroke-width="1.15"/>
<path d="M417.6 636.1L420.7 636.1" stroke-width="1.15"/>
<path d="M417.6 635.3L420.7 635.3" stroke-width="1.15"/>
<path d="M420.7 700.7L420.7 705.5" stroke-width="1.3"/>
<path d="M442.4 700.7L442.4 705.5" stroke-width="1.3"/>
<path d="M464.1 700.7L464.1 705.5" stroke-width="1.3"/>
<path d="M485.9 700.7L485.9 705.5" stroke-width="1.3"/>
<path d="M507.6 700.7L507.6 705.5" stroke-width="1.3"/>
<path d="M427.2 700.7L427.2 703.4" stroke-width="1.15"/>
<path d="M431.1 700.7L431.1 703.4" stroke-width="1.15"/>
<path d="M433.8 700.7L433.8 703.4" stroke-width="1.15"/>
<path d="M435.9 700.7L435.9 703.4" stroke-width="1.15"/>
<path d="M437.6 700.7L437.6 703.4" stroke-width="1.15"/>
<path d="M439.1 700.7L439.1 703.4" stroke-width="1.15"/>
<path d="M440.3 700.7L440.3 703.4" stroke-width="1.15"/>
<path d="M441.4 700.7L441.4 703.4" stroke-width="1.15"/>
<path d="M449 700.7L449 703.4" stroke-width="1.15"/>
<path d="M452.8 700.7L452.8 703.4" stroke-width="1.15"/>
<path d="M455.5 700.7L455.5 703.4" stroke-width="1.15"/>
<path d="M457.6 700.7L457.6 703.4" stroke-width="1.15"/>
<path d="M459.3 700.7L459.3 703.4" stroke-width="1.15"/>
<path d="M460.8 700.7L460.8 703.4" stroke-width="1.15"/>
<path d="M462 700.7L462 703.4" stroke-width="1.15"/>
<path d="M463.2 700.7L463.2 703.4" stroke-width="1.15"/>
<path d="M470.7 700.7L470.7 703.4" stroke-width="1.15"/>
<path d="M474.5 700.7L474.5 703.4" stroke-width="1.15"/>
<path d="M477.2 700.7L477.2 703.4" stroke-width="1.15"/>
<path d="M479.3 700.7L479.3 703.4" stroke-width="1.15"/>
<path d="M481.1 700.7L481.1 703.4" stroke-width="1.15"/>
<path d="M482.5 700.7L482.5 703.4" stroke-width="1.15"/>
<path d="M483.8 700.7L483.8 703.4" stroke-width="1.15"/>
<path d="M484.9 700.7L484.9 703.4" stroke-width="1.15"/>
<path d="M492.4 700.7L492.4 703.4" stroke-width="1.15"/>
<path d="M496.2 700.7L496.2 703.4" stroke-width="1.15"/>
<path d="M499 700.7L499 703.4" stroke-width="1.15"/>
<path d="M501.1 700.7L501.1 703.4" stroke-width="1.15"/>
<path d="M502.8 700.7L502.8 703.4" stroke-width="1.15"/>
<path d="M504.2 700.7L504.2 703.4" stroke-width="1.15"/>
<path d="M505.5 700.7L505.5 703.4" stroke-width="1.15"/>
<path d="M506.6 700.7L506.6 703.4" stroke-width="1.15"/>
<text class="n b" font-size="10.6" transform="translate(414.2 718) rotate(0) scale(0.85 1)">10<tspan dy="-5.8" dx="0.3">0</tspan></text>
<text class="n b" font-size="10.6" transform="translate(498.9 718) rotate(0) scale(0.85 1)">10<tspan dy="-5.8" dx="0.3">4</tspan></text>
<text class="n b" font-size="10.6" transform="translate(411.2 708.9) rotate(-90) scale(0.9 1)">10<tspan dy="-5.8" dx="2.0">0</tspan></text>
<text class="n b" font-size="10.6" transform="translate(411.2 642.7) rotate(-90) scale(0.9 1)">10<tspan dy="-5.8" dx="2.0">4</tspan></text>
<text class="s" x="393.1" y="703.6" font-size="12" transform="rotate(-90 393.1 703.6)" textLength="77.4" lengthAdjust="spacingAndGlyphs">CD138 PECY5</text>
<text class="s" x="440.4" y="725.3" font-size="12" textLength="47.8" lengthAdjust="spacingAndGlyphs">CD40 PE</text>
<path class="d" d="M450.5 641.5h0m3 0h0m5 0h0m3 0h0m2 0h0m-15 1h0m2 0h5m2 0h1m2 0h0m2 0h1m2 0h0m18 0h0m-38 1h0m2 0h0m6 0h0m2 0h2m9 0h0m-16 1h0m2 0h2m2 0h1m-12 1h0m4 0h1m2 0h0m2 0h0m2 0h1m17 0h0m14 0h0m-43 1h0m4 0h2m2 0h0m2 0h8m2 0h0m-28 1h0m3 0h0m6 0h0m2 0h0m2 0h4m2 0h0m2 0h2m2 0h0m2 0h0m11 0h0m-38 1h0m5 0h0m5 0h6m2 0h2m2 0h1m2 0h0m-18 1h14m2 0h1m2 0h0m16 0h0m-34 1h0m2 0h12m2 0h0m3 0h0m4 0h0m14 0h0m-49 1h0m2 0h0m3 0h0m6 0h0m2 0h4m2 0h8m-18 1h0m3 0h2m3 0h11m2 0h1m19 0h0m-40 1h0m3 0h16m2 0h0m-29 1h0m7 0h0m2 0h0m2 0h1m2 0h12m2 0h0m4 0h0m-41 1h0m17 0h1m2 0h15m2 0h0m2 0h1m21 0h0m-55 1h1m11 0h1m2 0h13m2 0h1m3 0h0m-40 1h0m18 0h21m-32 1h0m13 0h16m3 0h1m2 0h0m2 0h0m-41 1h0m7 0h0m4 0h1m3 0h17m2 0h1m4 0h0m7 0h0m-44 1h0m4 0h0m2 0h0m5 0h19m2 0h0m4 0h0m2 0h0m24 0h0m-63 1h0m5 0h0m6 0h0m3 0h19m-30 1h0m3 0h3m5 0h18m3 0h1m2 0h0m-32 1h1m10 0h20m-36 1h0m2 0h1m8 0h0m2 0h22m2 0h0m16 0h0m-40 1h19m3 0h0m27 0h0m-67 1h0m2 0h0m9 0h0m2 0h0m2 0h0m2 0h0m2 0h19m8 0h0m5 0h1m6 0h0m-58 1h0m10 0h1m8 0h0m2 0h14m2 0h1m3 0h0m-36 1h0m2 0h1m6 0h0m4 0h0m2 0h17m3 0h0m18 0h0m-51 1h1m2 0h0m6 0h0m2 0h2m2 0h14m18 0h0m-47 1h0m5 0h1m5 0h16m2 0h0m4 0h0m9 0h0m-40 1h0m2 0h0m6 0h1m3 0h11m2 0h1m2 0h0m-29 1h0m10 0h1m2 0h9m2 0h4m4 0h0m8 0h0m-37 1h0m9 0h0m3 0h7m2 0h0m2 0h1m-30 1h0m8 0h0m5 0h0m3 0h6m2 0h2m2 0h6m-27 1h0m6 0h0m2 0h1m3 0h0m2 0h1m2 0h0m2 0h1m5 0h0" stroke-width="1.5"/>
<rect x="261.6" y="768.3" width="86.7" height="65.5" stroke-width="1.3"/>
<path d="M283.7 768.3L283.7 833.8" stroke-width="1.3"/>
<path d="M261.6 809.3L348.3 809.3" stroke-width="1.3"/>
<path d="M256.2 833.8L261.6 833.8" stroke-width="1.3"/>
<path d="M256.2 817.4L261.6 817.4" stroke-width="1.3"/>
<path d="M256.2 801L261.6 801" stroke-width="1.3"/>
<path d="M256.2 784.7L261.6 784.7" stroke-width="1.3"/>
<path d="M256.2 768.3L261.6 768.3" stroke-width="1.3"/>
<path d="M258.5 828.9L261.6 828.9" stroke-width="1.15"/>
<path d="M258.5 826L261.6 826" stroke-width="1.15"/>
<path d="M258.5 823.9L261.6 823.9" stroke-width="1.15"/>
<path d="M258.5 822.4L261.6 822.4" stroke-width="1.15"/>
<path d="M258.5 821.1L261.6 821.1" stroke-width="1.15"/>
<path d="M258.5 820L261.6 820" stroke-width="1.15"/>
<path d="M258.5 819L261.6 819" stroke-width="1.15"/>
<path d="M258.5 818.2L261.6 818.2" stroke-width="1.15"/>
<path d="M258.5 812.5L261.6 812.5" stroke-width="1.15"/>
<path d="M258.5 809.6L261.6 809.6" stroke-width="1.15"/>
<path d="M258.5 807.6L261.6 807.6" stroke-width="1.15"/>
<path d="M258.5 806L261.6 806" stroke-width="1.15"/>
<path d="M258.5 804.7L261.6 804.7" stroke-width="1.15"/>
<path d="M258.5 803.6L261.6 803.6" stroke-width="1.15"/>
<path d="M258.5 802.6L261.6 802.6" stroke-width="1.15"/>
<path d="M258.5 801.8L261.6 801.8" stroke-width="1.15"/>
<path d="M258.5 796.1L261.6 796.1" stroke-width="1.15"/>
<path d="M258.5 793.2L261.6 793.2" stroke-width="1.15"/>
<path d="M258.5 791.2L261.6 791.2" stroke-width="1.15"/>
<path d="M258.5 789.6L261.6 789.6" stroke-width="1.15"/>
<path d="M258.5 788.3L261.6 788.3" stroke-width="1.15"/>
<path d="M258.5 787.2L261.6 787.2" stroke-width="1.15"/>
<path d="M258.5 786.3L261.6 786.3" stroke-width="1.15"/>
<path d="M258.5 785.4L261.6 785.4" stroke-width="1.15"/>
<path d="M258.5 779.7L261.6 779.7" stroke-width="1.15"/>
<path d="M258.5 776.9L261.6 776.9" stroke-width="1.15"/>
<path d="M258.5 774.8L261.6 774.8" stroke-width="1.15"/>
<path d="M258.5 773.2L261.6 773.2" stroke-width="1.15"/>
<path d="M258.5 771.9L261.6 771.9" stroke-width="1.15"/>
<path d="M258.5 770.8L261.6 770.8" stroke-width="1.15"/>
<path d="M258.5 769.9L261.6 769.9" stroke-width="1.15"/>
<path d="M258.5 769L261.6 769" stroke-width="1.15"/>
<path d="M261.6 833.8L261.6 838.6" stroke-width="1.3"/>
<path d="M283.3 833.8L283.3 838.6" stroke-width="1.3"/>
<path d="M305 833.8L305 838.6" stroke-width="1.3"/>
<path d="M326.6 833.8L326.6 838.6" stroke-width="1.3"/>
<path d="M348.3 833.8L348.3 838.6" stroke-width="1.3"/>
<path d="M268.1 833.8L268.1 836.5" stroke-width="1.15"/>
<path d="M271.9 833.8L271.9 836.5" stroke-width="1.15"/>
<path d="M274.6 833.8L274.6 836.5" stroke-width="1.15"/>
<path d="M276.8 833.8L276.8 836.5" stroke-width="1.15"/>
<path d="M278.5 833.8L278.5 836.5" stroke-width="1.15"/>
<path d="M279.9 833.8L279.9 836.5" stroke-width="1.15"/>
<path d="M281.2 833.8L281.2 836.5" stroke-width="1.15"/>
<path d="M282.3 833.8L282.3 836.5" stroke-width="1.15"/>
<path d="M289.8 833.8L289.8 836.5" stroke-width="1.15"/>
<path d="M293.6 833.8L293.6 836.5" stroke-width="1.15"/>
<path d="M296.3 833.8L296.3 836.5" stroke-width="1.15"/>
<path d="M298.4 833.8L298.4 836.5" stroke-width="1.15"/>
<path d="M300.1 833.8L300.1 836.5" stroke-width="1.15"/>
<path d="M301.6 833.8L301.6 836.5" stroke-width="1.15"/>
<path d="M302.8 833.8L302.8 836.5" stroke-width="1.15"/>
<path d="M304 833.8L304 836.5" stroke-width="1.15"/>
<path d="M311.5 833.8L311.5 836.5" stroke-width="1.15"/>
<path d="M315.3 833.8L315.3 836.5" stroke-width="1.15"/>
<path d="M318 833.8L318 836.5" stroke-width="1.15"/>
<path d="M320.1 833.8L320.1 836.5" stroke-width="1.15"/>
<path d="M321.8 833.8L321.8 836.5" stroke-width="1.15"/>
<path d="M323.3 833.8L323.3 836.5" stroke-width="1.15"/>
<path d="M324.5 833.8L324.5 836.5" stroke-width="1.15"/>
<path d="M325.6 833.8L325.6 836.5" stroke-width="1.15"/>
<path d="M333.1 833.8L333.1 836.5" stroke-width="1.15"/>
<path d="M337 833.8L337 836.5" stroke-width="1.15"/>
<path d="M339.7 833.8L339.7 836.5" stroke-width="1.15"/>
<path d="M341.8 833.8L341.8 836.5" stroke-width="1.15"/>
<path d="M343.5 833.8L343.5 836.5" stroke-width="1.15"/>
<path d="M344.9 833.8L344.9 836.5" stroke-width="1.15"/>
<path d="M346.2 833.8L346.2 836.5" stroke-width="1.15"/>
<path d="M347.3 833.8L347.3 836.5" stroke-width="1.15"/>
<text class="n b" font-size="10.6" transform="translate(254.2 851.1) rotate(0) scale(0.85 1)">10<tspan dy="-5.8" dx="0.3">0</tspan></text>
<text class="n b" font-size="10.6" transform="translate(339.7 851.1) rotate(0) scale(0.85 1)">10<tspan dy="-5.8" dx="0.3">4</tspan></text>
<text class="n b" font-size="10.6" transform="translate(252.1 842) rotate(-90) scale(0.9 1)">10<tspan dy="-5.8" dx="2.0">0</tspan></text>
<text class="n b" font-size="10.6" transform="translate(252.1 776.5) rotate(-90) scale(0.9 1)">10<tspan dy="-5.8" dx="2.0">4</tspan></text>
<text class="s" x="234.1" y="837.3" font-size="12" transform="rotate(-90 234.1 837.3)" textLength="77.5" lengthAdjust="spacingAndGlyphs">CD138 PECY5</text>
<text class="s" x="287" y="858.7" font-size="12" textLength="47.2" lengthAdjust="spacingAndGlyphs">CD86 PE</text>
<path class="d" d="M286.5 774.5h0m10 0h0m2 0h0m-3 1h0m3 0h1m-13 1h0m9 0h0m50 0h0m-55 1h1m2 0h0m3 0h2m-10 1h0m5 0h7m-24 1h0m9 0h0m3 0h0m2 0h0m3 0h3m2 0h0m2 0h0m2 0h0m2 0h0m6 0h0m35 0h0m-82 1h0m27 0h0m2 0h2m2 0h1m2 0h0m3 0h0m2 0h0m-38 1h0m11 0h0m12 0h8m2 0h0m2 0h0m2 0h0m2 0h0m-18 1h0m4 0h4m3 0h3m5 0h0m6 0h0m33 0h0m-61 1h1m3 0h2m2 0h7m-21 1h0m8 0h9m3 0h2m3 0h1m-34 1h0m10 0h0m2 0h0m4 0h0m2 0h0m3 0h9m10 0h0m-43 1h0m4 0h0m10 0h0m6 0h11m2 0h1m2 0h2m-37 1h0m6 0h0m2 0h0m10 0h1m2 0h17m-33 1h0m9 0h0m2 0h0m2 0h16m9 0h0m3 0h0m-45 1h0m3 0h0m2 0h0m4 0h0m2 0h0m4 0h14m2 0h4m3 0h0m-36 1h0m12 0h2m2 0h14m2 0h2m2 0h1m3 0h1m2 0h0m13 0h0m-55 1h2m6 0h0m3 0h2m2 0h16m2 0h0m2 0h0m4 0h1m3 0h0m10 0h0m5 0h0m-62 1h1m16 0h0m2 0h18m4 0h0m5 0h0m28 0h0m-79 1h0m8 0h0m5 0h1m7 0h2m2 0h17m3 0h3m3 0h0m2 0h0m20 0h0m-71 1h0m7 0h0m3 0h0m3 0h0m3 0h1m2 0h2m2 0h16m4 0h1m3 0h0m3 0h0m-50 1h1m6 0h0m4 0h0m2 0h0m6 0h18m3 0h0m2 0h0m3 0h0m2 0h1m4 0h0m-48 1h1m4 0h0m4 0h2m4 0h20m2 0h0m6 0h0m6 0h0m11 0h0m-59 1h1m3 0h0m2 0h0m3 0h0m3 0h0m3 0h21m2 0h0m2 0h0m3 0h0m2 0h0m2 0h0m-42 1h0m6 0h0m3 0h25m2 0h0m3 0h1m2 0h0m2 0h0m2 0h0m4 0h0m-60 1h0m8 0h0m4 0h0m3 0h0m3 0h0m2 0h0m3 0h19m4 0h0m5 0h0m4 0h0m10 0h0m-62 1h0m5 0h2m2 0h0m4 0h1m5 0h23m17 0h0m-57 1h0m14 0h3m2 0h15m2 0h3m2 0h0m2 0h0m2 0h1m2 0h0m-43 1h0m2 0h0m5 0h0m2 0h25m2 0h1m3 0h0m2 0h0m3 0h1m4 0h0m-58 1h0m12 0h5m2 0h20m2 0h6m3 0h1m3 0h0m7 0h0m-59 1h0m18 0h0m2 0h12m2 0h6m2 0h0m6 0h0m8 0h0m-52 1h0m2 0h0m3 0h0m8 0h15m2 0h3m3 0h0m7 0h0m2 0h0m-33 1h0m2 0h1m2 0h11m2 0h8m11 0h0m8 0h0m-51 1h0m5 0h0m4 0h1m2 0h11m5 0h0m3 0h1m4 0h0m-29 1h0m2 0h0m2 0h9m2 0h0m2 0h4m2 0h0m2 0h0m3 0h0m4 0h0" stroke-width="1.5"/>
<rect x="420.7" y="767.2" width="86.9" height="66.1" stroke-width="1.3"/>
<path d="M442.4 767.2L442.4 833.3" stroke-width="1.3"/>
<path d="M420.7 808.7L507.6 808.7" stroke-width="1.3"/>
<path d="M415.3 833.3L420.7 833.3" stroke-width="1.3"/>
<path d="M415.3 816.8L420.7 816.8" stroke-width="1.3"/>
<path d="M415.3 800.2L420.7 800.2" stroke-width="1.3"/>
<path d="M415.3 783.7L420.7 783.7" stroke-width="1.3"/>
<path d="M415.3 767.2L420.7 767.2" stroke-width="1.3"/>
<path d="M417.6 828.3L420.7 828.3" stroke-width="1.15"/>
<path d="M417.6 825.4L420.7 825.4" stroke-width="1.15"/>
<path d="M417.6 823.4L420.7 823.4" stroke-width="1.15"/>
<path d="M417.6 821.7L420.7 821.7" stroke-width="1.15"/>
<path d="M417.6 820.4L420.7 820.4" stroke-width="1.15"/>
<path d="M417.6 819.3L420.7 819.3" stroke-width="1.15"/>
<path d="M417.6 818.4L420.7 818.4" stroke-width="1.15"/>
<path d="M417.6 817.5L420.7 817.5" stroke-width="1.15"/>
<path d="M417.6 811.8L420.7 811.8" stroke-width="1.15"/>
<path d="M417.6 808.9L420.7 808.9" stroke-width="1.15"/>
<path d="M417.6 806.8L420.7 806.8" stroke-width="1.15"/>
<path d="M417.6 805.2L420.7 805.2" stroke-width="1.15"/>
<path d="M417.6 803.9L420.7 803.9" stroke-width="1.15"/>
<path d="M417.6 802.8L420.7 802.8" stroke-width="1.15"/>
<path d="M417.6 801.9L420.7 801.9" stroke-width="1.15"/>
<path d="M417.6 801L420.7 801" stroke-width="1.15"/>
<path d="M417.6 795.3L420.7 795.3" stroke-width="1.15"/>
<path d="M417.6 792.4L420.7 792.4" stroke-width="1.15"/>
<path d="M417.6 790.3L420.7 790.3" stroke-width="1.15"/>
<path d="M417.6 788.7L420.7 788.7" stroke-width="1.15"/>
<path d="M417.6 787.4L420.7 787.4" stroke-width="1.15"/>
<path d="M417.6 786.3L420.7 786.3" stroke-width="1.15"/>
<path d="M417.6 785.3L420.7 785.3" stroke-width="1.15"/>
<path d="M417.6 784.5L420.7 784.5" stroke-width="1.15"/>
<path d="M417.6 778.8L420.7 778.8" stroke-width="1.15"/>
<path d="M417.6 775.8L420.7 775.8" stroke-width="1.15"/>
<path d="M417.6 773.8L420.7 773.8" stroke-width="1.15"/>
<path d="M417.6 772.2L420.7 772.2" stroke-width="1.15"/>
<path d="M417.6 770.9L420.7 770.9" stroke-width="1.15"/>
<path d="M417.6 769.8L420.7 769.8" stroke-width="1.15"/>
<path d="M417.6 768.8L420.7 768.8" stroke-width="1.15"/>
<path d="M417.6 768L420.7 768" stroke-width="1.15"/>
<path d="M420.7 833.3L420.7 838.1" stroke-width="1.3"/>
<path d="M442.4 833.3L442.4 838.1" stroke-width="1.3"/>
<path d="M464.1 833.3L464.1 838.1" stroke-width="1.3"/>
<path d="M485.9 833.3L485.9 838.1" stroke-width="1.3"/>
<path d="M507.6 833.3L507.6 838.1" stroke-width="1.3"/>
<path d="M427.2 833.3L427.2 836" stroke-width="1.15"/>
<path d="M431.1 833.3L431.1 836" stroke-width="1.15"/>
<path d="M433.8 833.3L433.8 836" stroke-width="1.15"/>
<path d="M435.9 833.3L435.9 836" stroke-width="1.15"/>
<path d="M437.6 833.3L437.6 836" stroke-width="1.15"/>
<path d="M439.1 833.3L439.1 836" stroke-width="1.15"/>
<path d="M440.3 833.3L440.3 836" stroke-width="1.15"/>
<path d="M441.4 833.3L441.4 836" stroke-width="1.15"/>
<path d="M449 833.3L449 836" stroke-width="1.15"/>
<path d="M452.8 833.3L452.8 836" stroke-width="1.15"/>
<path d="M455.5 833.3L455.5 836" stroke-width="1.15"/>
<path d="M457.6 833.3L457.6 836" stroke-width="1.15"/>
<path d="M459.3 833.3L459.3 836" stroke-width="1.15"/>
<path d="M460.8 833.3L460.8 836" stroke-width="1.15"/>
<path d="M462 833.3L462 836" stroke-width="1.15"/>
<path d="M463.2 833.3L463.2 836" stroke-width="1.15"/>
<path d="M470.7 833.3L470.7 836" stroke-width="1.15"/>
<path d="M474.5 833.3L474.5 836" stroke-width="1.15"/>
<path d="M477.2 833.3L477.2 836" stroke-width="1.15"/>
<path d="M479.3 833.3L479.3 836" stroke-width="1.15"/>
<path d="M481.1 833.3L481.1 836" stroke-width="1.15"/>
<path d="M482.5 833.3L482.5 836" stroke-width="1.15"/>
<path d="M483.8 833.3L483.8 836" stroke-width="1.15"/>
<path d="M484.9 833.3L484.9 836" stroke-width="1.15"/>
<path d="M492.4 833.3L492.4 836" stroke-width="1.15"/>
<path d="M496.2 833.3L496.2 836" stroke-width="1.15"/>
<path d="M499 833.3L499 836" stroke-width="1.15"/>
<path d="M501.1 833.3L501.1 836" stroke-width="1.15"/>
<path d="M502.8 833.3L502.8 836" stroke-width="1.15"/>
<path d="M504.2 833.3L504.2 836" stroke-width="1.15"/>
<path d="M505.5 833.3L505.5 836" stroke-width="1.15"/>
<path d="M506.6 833.3L506.6 836" stroke-width="1.15"/>
<text class="n b" font-size="10.6" transform="translate(414.2 850.6) rotate(0) scale(0.85 1)">10<tspan dy="-5.8" dx="0.3">0</tspan></text>
<text class="n b" font-size="10.6" transform="translate(498.9 850.6) rotate(0) scale(0.85 1)">10<tspan dy="-5.8" dx="0.3">4</tspan></text>
<text class="n b" font-size="10.6" transform="translate(411.2 841.5) rotate(-90) scale(0.9 1)">10<tspan dy="-5.8" dx="2.0">0</tspan></text>
<text class="n b" font-size="10.6" transform="translate(411.2 775.4) rotate(-90) scale(0.9 1)">10<tspan dy="-5.8" dx="2.0">4</tspan></text>
<text class="s" x="392.4" y="838.1" font-size="12" transform="rotate(-90 392.4 838.1)" textLength="78.2" lengthAdjust="spacingAndGlyphs">CD138 PECY5</text>
<text class="s" x="442.7" y="857" font-size="12" textLength="53.8" lengthAdjust="spacingAndGlyphs">CD49e PE</text>
<path class="d" d="M421.5 773.5h0m4 0h0m2 0h1m2 0h0m2 0h2m2 0h1m-15 1h0m5 0h5m3 0h0m2 0h0m-13 1h5m2 0h2m3 0h0m5 0h0m-15 1h12m2 0h1m3 0h0m-22 1h0m2 0h4m2 0h5m2 0h1m3 0h0m-18 1h1m2 0h6m2 0h3m2 0h2m5 0h0m-24 1h14m4 0h1m5 0h0m-24 1h1m2 0h16m-18 1h11m2 0h0m2 0h1m4 0h0m-21 1h16m2 0h0m-18 1h0m2 0h17m-19 1h13m2 0h3m-18 1h16m2 0h0m3 0h0m2 0h0m-24 1h19m-18 1h15m2 0h1m-18 1h19m-20 1h18m4 0h0m-21 1h18m4 0h0m-22 1h18m-18 1h17m2 0h0m-19 1h19m-19 1h16m3 0h0m-19 1h18m4 0h0m-23 1h19m-18 1h18m-19 1h19m4 0h0m-22 1h19m2 0h1m-22 1h18m4 0h0m-22 1h18m-18 1h18m-18 1h17m-18 1h18m2 0h0m-19 1h15m2 0h1m-17 1h10m3 0h1m8 0h0m-22 1h18m-16 1h2m3 0h0m2 0h0m2 0h1m3 0h0" stroke-width="1.5"/>
</svg></body></html>
